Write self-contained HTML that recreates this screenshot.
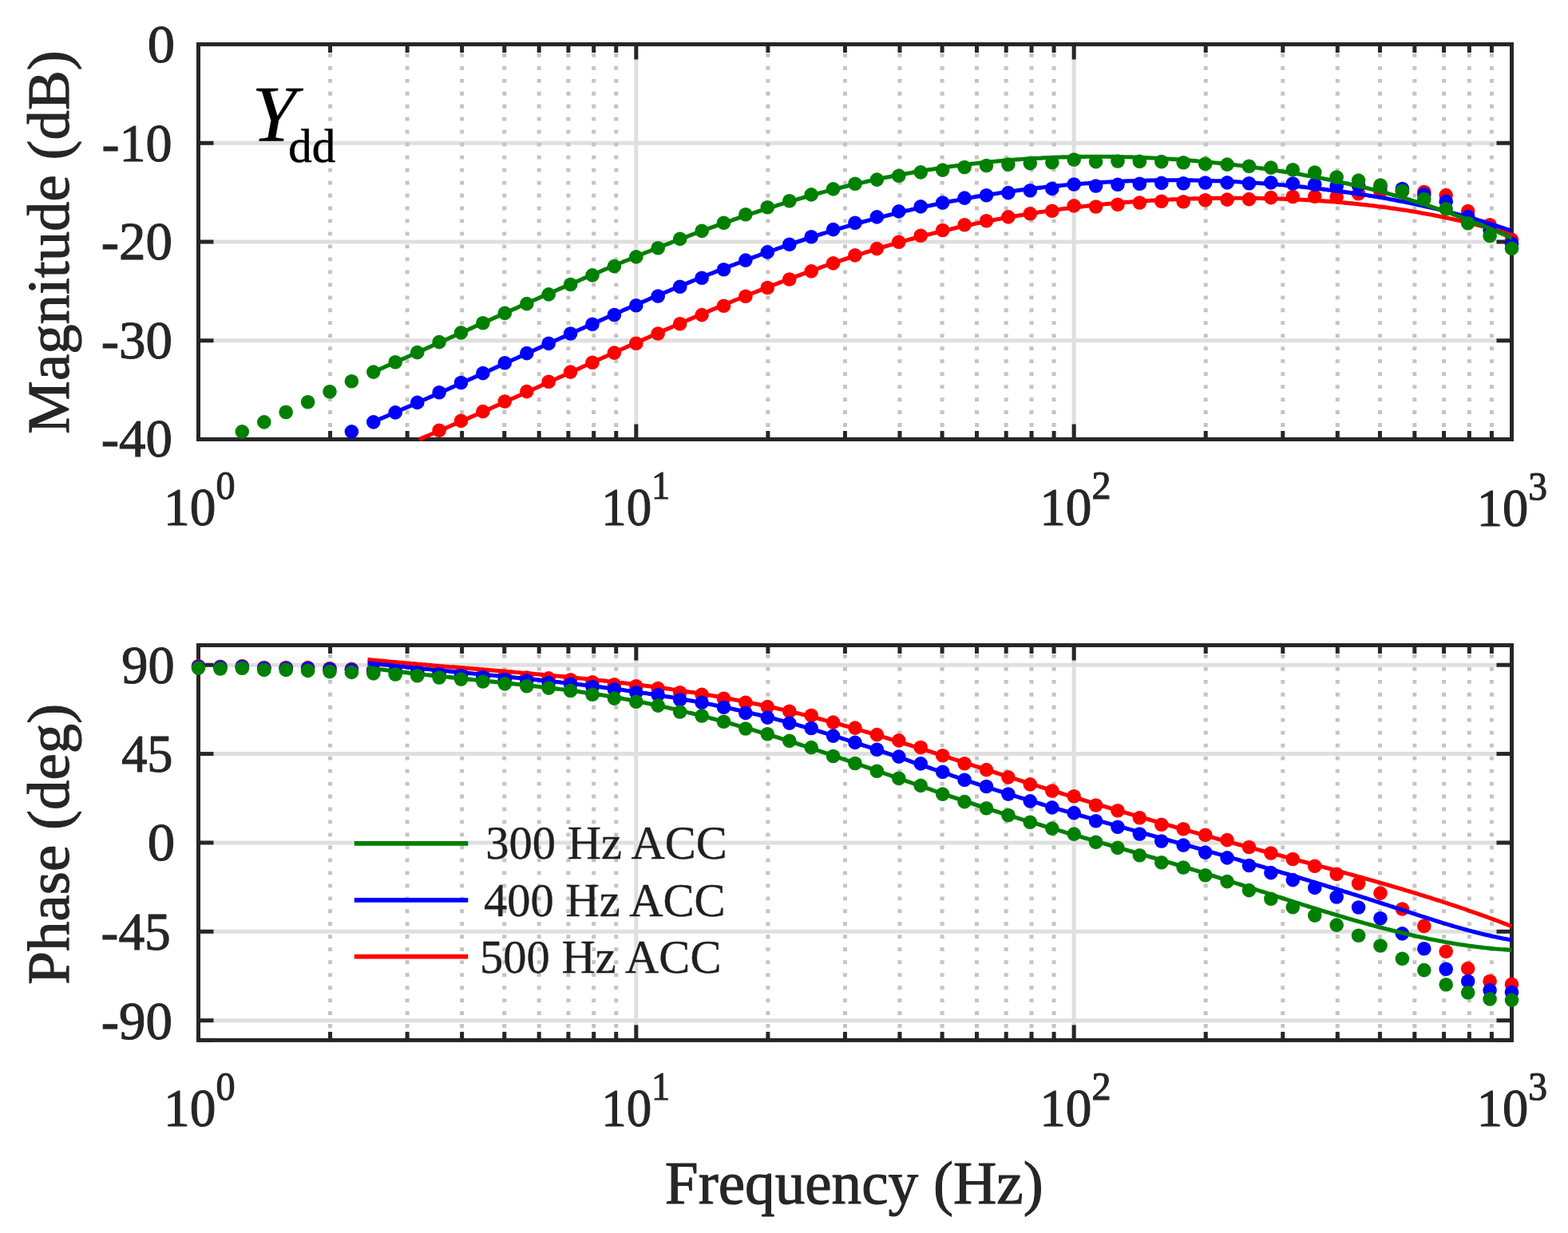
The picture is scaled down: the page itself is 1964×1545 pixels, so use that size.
<!DOCTYPE html>
<html><head><meta charset="utf-8"><style>html,body{margin:0;padding:0;background:#fff;}svg{display:block;}</style></head><body>
<svg width="1964" height="1545" viewBox="0 0 1964 1545">
<rect width="1964" height="1545" fill="#fff"/>
<defs><clipPath id="cm"><rect x="248.5" y="55.5" width="1645.0" height="495.0"/></clipPath><clipPath id="cp"><rect x="248.5" y="808.5" width="1645.0" height="494.90"/></clipPath></defs>
<line x1="248.5" y1="179.25" x2="1893.5" y2="179.25" stroke="#dfdfdf" stroke-width="5"/>
<line x1="248.5" y1="303.00" x2="1893.5" y2="303.00" stroke="#dfdfdf" stroke-width="5"/>
<line x1="248.5" y1="426.75" x2="1893.5" y2="426.75" stroke="#dfdfdf" stroke-width="5"/>
<line x1="413.56" y1="55.5" x2="413.56" y2="550.5" stroke="#c4c4c4" stroke-width="5" stroke-dasharray="4.8 11.17" stroke-dashoffset="4.52"/>
<line x1="510.12" y1="55.5" x2="510.12" y2="550.5" stroke="#c4c4c4" stroke-width="5" stroke-dasharray="4.8 11.17" stroke-dashoffset="4.52"/>
<line x1="578.63" y1="55.5" x2="578.63" y2="550.5" stroke="#c4c4c4" stroke-width="5" stroke-dasharray="4.8 11.17" stroke-dashoffset="4.52"/>
<line x1="631.77" y1="55.5" x2="631.77" y2="550.5" stroke="#c4c4c4" stroke-width="5" stroke-dasharray="4.8 11.17" stroke-dashoffset="4.52"/>
<line x1="675.19" y1="55.5" x2="675.19" y2="550.5" stroke="#c4c4c4" stroke-width="5" stroke-dasharray="4.8 11.17" stroke-dashoffset="4.52"/>
<line x1="711.90" y1="55.5" x2="711.90" y2="550.5" stroke="#c4c4c4" stroke-width="5" stroke-dasharray="4.8 11.17" stroke-dashoffset="4.52"/>
<line x1="743.69" y1="55.5" x2="743.69" y2="550.5" stroke="#c4c4c4" stroke-width="5" stroke-dasharray="4.8 11.17" stroke-dashoffset="4.52"/>
<line x1="771.74" y1="55.5" x2="771.74" y2="550.5" stroke="#c4c4c4" stroke-width="5" stroke-dasharray="4.8 11.17" stroke-dashoffset="4.52"/>
<line x1="961.90" y1="55.5" x2="961.90" y2="550.5" stroke="#c4c4c4" stroke-width="5" stroke-dasharray="4.8 11.17" stroke-dashoffset="4.52"/>
<line x1="1058.45" y1="55.5" x2="1058.45" y2="550.5" stroke="#c4c4c4" stroke-width="5" stroke-dasharray="4.8 11.17" stroke-dashoffset="4.52"/>
<line x1="1126.96" y1="55.5" x2="1126.96" y2="550.5" stroke="#c4c4c4" stroke-width="5" stroke-dasharray="4.8 11.17" stroke-dashoffset="4.52"/>
<line x1="1180.10" y1="55.5" x2="1180.10" y2="550.5" stroke="#c4c4c4" stroke-width="5" stroke-dasharray="4.8 11.17" stroke-dashoffset="4.52"/>
<line x1="1223.52" y1="55.5" x2="1223.52" y2="550.5" stroke="#c4c4c4" stroke-width="5" stroke-dasharray="4.8 11.17" stroke-dashoffset="4.52"/>
<line x1="1260.23" y1="55.5" x2="1260.23" y2="550.5" stroke="#c4c4c4" stroke-width="5" stroke-dasharray="4.8 11.17" stroke-dashoffset="4.52"/>
<line x1="1292.03" y1="55.5" x2="1292.03" y2="550.5" stroke="#c4c4c4" stroke-width="5" stroke-dasharray="4.8 11.17" stroke-dashoffset="4.52"/>
<line x1="1320.08" y1="55.5" x2="1320.08" y2="550.5" stroke="#c4c4c4" stroke-width="5" stroke-dasharray="4.8 11.17" stroke-dashoffset="4.52"/>
<line x1="1510.23" y1="55.5" x2="1510.23" y2="550.5" stroke="#c4c4c4" stroke-width="5" stroke-dasharray="4.8 11.17" stroke-dashoffset="4.52"/>
<line x1="1606.79" y1="55.5" x2="1606.79" y2="550.5" stroke="#c4c4c4" stroke-width="5" stroke-dasharray="4.8 11.17" stroke-dashoffset="4.52"/>
<line x1="1675.30" y1="55.5" x2="1675.30" y2="550.5" stroke="#c4c4c4" stroke-width="5" stroke-dasharray="4.8 11.17" stroke-dashoffset="4.52"/>
<line x1="1728.44" y1="55.5" x2="1728.44" y2="550.5" stroke="#c4c4c4" stroke-width="5" stroke-dasharray="4.8 11.17" stroke-dashoffset="4.52"/>
<line x1="1771.85" y1="55.5" x2="1771.85" y2="550.5" stroke="#c4c4c4" stroke-width="5" stroke-dasharray="4.8 11.17" stroke-dashoffset="4.52"/>
<line x1="1808.56" y1="55.5" x2="1808.56" y2="550.5" stroke="#c4c4c4" stroke-width="5" stroke-dasharray="4.8 11.17" stroke-dashoffset="4.52"/>
<line x1="1840.36" y1="55.5" x2="1840.36" y2="550.5" stroke="#c4c4c4" stroke-width="5" stroke-dasharray="4.8 11.17" stroke-dashoffset="4.52"/>
<line x1="1868.41" y1="55.5" x2="1868.41" y2="550.5" stroke="#c4c4c4" stroke-width="5" stroke-dasharray="4.8 11.17" stroke-dashoffset="4.52"/>
<line x1="796.83" y1="55.5" x2="796.83" y2="550.5" stroke="#dfdfdf" stroke-width="5"/>
<line x1="1345.17" y1="55.5" x2="1345.17" y2="550.5" stroke="#dfdfdf" stroke-width="5"/>
<line x1="248.50" y1="55.5" x2="248.50" y2="74.5" stroke="#262626" stroke-width="5"/>
<line x1="248.50" y1="550.5" x2="248.50" y2="531.5" stroke="#262626" stroke-width="5"/>
<line x1="796.83" y1="55.5" x2="796.83" y2="74.5" stroke="#262626" stroke-width="5"/>
<line x1="796.83" y1="550.5" x2="796.83" y2="531.5" stroke="#262626" stroke-width="5"/>
<line x1="1345.17" y1="55.5" x2="1345.17" y2="74.5" stroke="#262626" stroke-width="5"/>
<line x1="1345.17" y1="550.5" x2="1345.17" y2="531.5" stroke="#262626" stroke-width="5"/>
<line x1="1893.50" y1="55.5" x2="1893.50" y2="74.5" stroke="#262626" stroke-width="5"/>
<line x1="1893.50" y1="550.5" x2="1893.50" y2="531.5" stroke="#262626" stroke-width="5"/>
<line x1="413.56" y1="55.5" x2="413.56" y2="66.0" stroke="#262626" stroke-width="5"/>
<line x1="413.56" y1="550.5" x2="413.56" y2="540.0" stroke="#262626" stroke-width="5"/>
<line x1="510.12" y1="55.5" x2="510.12" y2="66.0" stroke="#262626" stroke-width="5"/>
<line x1="510.12" y1="550.5" x2="510.12" y2="540.0" stroke="#262626" stroke-width="5"/>
<line x1="578.63" y1="55.5" x2="578.63" y2="66.0" stroke="#262626" stroke-width="5"/>
<line x1="578.63" y1="550.5" x2="578.63" y2="540.0" stroke="#262626" stroke-width="5"/>
<line x1="631.77" y1="55.5" x2="631.77" y2="66.0" stroke="#262626" stroke-width="5"/>
<line x1="631.77" y1="550.5" x2="631.77" y2="540.0" stroke="#262626" stroke-width="5"/>
<line x1="675.19" y1="55.5" x2="675.19" y2="66.0" stroke="#262626" stroke-width="5"/>
<line x1="675.19" y1="550.5" x2="675.19" y2="540.0" stroke="#262626" stroke-width="5"/>
<line x1="711.90" y1="55.5" x2="711.90" y2="66.0" stroke="#262626" stroke-width="5"/>
<line x1="711.90" y1="550.5" x2="711.90" y2="540.0" stroke="#262626" stroke-width="5"/>
<line x1="743.69" y1="55.5" x2="743.69" y2="66.0" stroke="#262626" stroke-width="5"/>
<line x1="743.69" y1="550.5" x2="743.69" y2="540.0" stroke="#262626" stroke-width="5"/>
<line x1="771.74" y1="55.5" x2="771.74" y2="66.0" stroke="#262626" stroke-width="5"/>
<line x1="771.74" y1="550.5" x2="771.74" y2="540.0" stroke="#262626" stroke-width="5"/>
<line x1="961.90" y1="55.5" x2="961.90" y2="66.0" stroke="#262626" stroke-width="5"/>
<line x1="961.90" y1="550.5" x2="961.90" y2="540.0" stroke="#262626" stroke-width="5"/>
<line x1="1058.45" y1="55.5" x2="1058.45" y2="66.0" stroke="#262626" stroke-width="5"/>
<line x1="1058.45" y1="550.5" x2="1058.45" y2="540.0" stroke="#262626" stroke-width="5"/>
<line x1="1126.96" y1="55.5" x2="1126.96" y2="66.0" stroke="#262626" stroke-width="5"/>
<line x1="1126.96" y1="550.5" x2="1126.96" y2="540.0" stroke="#262626" stroke-width="5"/>
<line x1="1180.10" y1="55.5" x2="1180.10" y2="66.0" stroke="#262626" stroke-width="5"/>
<line x1="1180.10" y1="550.5" x2="1180.10" y2="540.0" stroke="#262626" stroke-width="5"/>
<line x1="1223.52" y1="55.5" x2="1223.52" y2="66.0" stroke="#262626" stroke-width="5"/>
<line x1="1223.52" y1="550.5" x2="1223.52" y2="540.0" stroke="#262626" stroke-width="5"/>
<line x1="1260.23" y1="55.5" x2="1260.23" y2="66.0" stroke="#262626" stroke-width="5"/>
<line x1="1260.23" y1="550.5" x2="1260.23" y2="540.0" stroke="#262626" stroke-width="5"/>
<line x1="1292.03" y1="55.5" x2="1292.03" y2="66.0" stroke="#262626" stroke-width="5"/>
<line x1="1292.03" y1="550.5" x2="1292.03" y2="540.0" stroke="#262626" stroke-width="5"/>
<line x1="1320.08" y1="55.5" x2="1320.08" y2="66.0" stroke="#262626" stroke-width="5"/>
<line x1="1320.08" y1="550.5" x2="1320.08" y2="540.0" stroke="#262626" stroke-width="5"/>
<line x1="1510.23" y1="55.5" x2="1510.23" y2="66.0" stroke="#262626" stroke-width="5"/>
<line x1="1510.23" y1="550.5" x2="1510.23" y2="540.0" stroke="#262626" stroke-width="5"/>
<line x1="1606.79" y1="55.5" x2="1606.79" y2="66.0" stroke="#262626" stroke-width="5"/>
<line x1="1606.79" y1="550.5" x2="1606.79" y2="540.0" stroke="#262626" stroke-width="5"/>
<line x1="1675.30" y1="55.5" x2="1675.30" y2="66.0" stroke="#262626" stroke-width="5"/>
<line x1="1675.30" y1="550.5" x2="1675.30" y2="540.0" stroke="#262626" stroke-width="5"/>
<line x1="1728.44" y1="55.5" x2="1728.44" y2="66.0" stroke="#262626" stroke-width="5"/>
<line x1="1728.44" y1="550.5" x2="1728.44" y2="540.0" stroke="#262626" stroke-width="5"/>
<line x1="1771.85" y1="55.5" x2="1771.85" y2="66.0" stroke="#262626" stroke-width="5"/>
<line x1="1771.85" y1="550.5" x2="1771.85" y2="540.0" stroke="#262626" stroke-width="5"/>
<line x1="1808.56" y1="55.5" x2="1808.56" y2="66.0" stroke="#262626" stroke-width="5"/>
<line x1="1808.56" y1="550.5" x2="1808.56" y2="540.0" stroke="#262626" stroke-width="5"/>
<line x1="1840.36" y1="55.5" x2="1840.36" y2="66.0" stroke="#262626" stroke-width="5"/>
<line x1="1840.36" y1="550.5" x2="1840.36" y2="540.0" stroke="#262626" stroke-width="5"/>
<line x1="1868.41" y1="55.5" x2="1868.41" y2="66.0" stroke="#262626" stroke-width="5"/>
<line x1="1868.41" y1="550.5" x2="1868.41" y2="540.0" stroke="#262626" stroke-width="5"/>
<line x1="248.5" y1="179.25" x2="267.5" y2="179.25" stroke="#262626" stroke-width="5"/>
<line x1="1893.5" y1="179.25" x2="1874.5" y2="179.25" stroke="#262626" stroke-width="5"/>
<line x1="248.5" y1="303.00" x2="267.5" y2="303.00" stroke="#262626" stroke-width="5"/>
<line x1="1893.5" y1="303.00" x2="1874.5" y2="303.00" stroke="#262626" stroke-width="5"/>
<line x1="248.5" y1="426.75" x2="267.5" y2="426.75" stroke="#262626" stroke-width="5"/>
<line x1="1893.5" y1="426.75" x2="1874.5" y2="426.75" stroke="#262626" stroke-width="5"/>
<line x1="248.5" y1="55.50" x2="267.5" y2="55.50" stroke="#262626" stroke-width="5"/>
<line x1="1893.5" y1="55.50" x2="1874.5" y2="55.50" stroke="#262626" stroke-width="5"/>
<line x1="248.5" y1="550.50" x2="267.5" y2="550.50" stroke="#262626" stroke-width="5"/>
<line x1="1893.5" y1="550.50" x2="1874.5" y2="550.50" stroke="#262626" stroke-width="5"/>
<rect x="248.5" y="55.5" width="1645.0" height="495.00" fill="none" stroke="#262626" stroke-width="5" stroke-linejoin="miter"/>
<line x1="248.5" y1="833.25" x2="1893.5" y2="833.25" stroke="#dfdfdf" stroke-width="5"/>
<line x1="248.5" y1="944.60" x2="1893.5" y2="944.60" stroke="#dfdfdf" stroke-width="5"/>
<line x1="248.5" y1="1055.95" x2="1893.5" y2="1055.95" stroke="#dfdfdf" stroke-width="5"/>
<line x1="248.5" y1="1167.30" x2="1893.5" y2="1167.30" stroke="#dfdfdf" stroke-width="5"/>
<line x1="248.5" y1="1278.66" x2="1893.5" y2="1278.66" stroke="#dfdfdf" stroke-width="5"/>
<line x1="413.56" y1="808.5" x2="413.56" y2="1303.4" stroke="#c4c4c4" stroke-width="5" stroke-dasharray="4.8 11.17" stroke-dashoffset="4.52"/>
<line x1="510.12" y1="808.5" x2="510.12" y2="1303.4" stroke="#c4c4c4" stroke-width="5" stroke-dasharray="4.8 11.17" stroke-dashoffset="4.52"/>
<line x1="578.63" y1="808.5" x2="578.63" y2="1303.4" stroke="#c4c4c4" stroke-width="5" stroke-dasharray="4.8 11.17" stroke-dashoffset="4.52"/>
<line x1="631.77" y1="808.5" x2="631.77" y2="1303.4" stroke="#c4c4c4" stroke-width="5" stroke-dasharray="4.8 11.17" stroke-dashoffset="4.52"/>
<line x1="675.19" y1="808.5" x2="675.19" y2="1303.4" stroke="#c4c4c4" stroke-width="5" stroke-dasharray="4.8 11.17" stroke-dashoffset="4.52"/>
<line x1="711.90" y1="808.5" x2="711.90" y2="1303.4" stroke="#c4c4c4" stroke-width="5" stroke-dasharray="4.8 11.17" stroke-dashoffset="4.52"/>
<line x1="743.69" y1="808.5" x2="743.69" y2="1303.4" stroke="#c4c4c4" stroke-width="5" stroke-dasharray="4.8 11.17" stroke-dashoffset="4.52"/>
<line x1="771.74" y1="808.5" x2="771.74" y2="1303.4" stroke="#c4c4c4" stroke-width="5" stroke-dasharray="4.8 11.17" stroke-dashoffset="4.52"/>
<line x1="961.90" y1="808.5" x2="961.90" y2="1303.4" stroke="#c4c4c4" stroke-width="5" stroke-dasharray="4.8 11.17" stroke-dashoffset="4.52"/>
<line x1="1058.45" y1="808.5" x2="1058.45" y2="1303.4" stroke="#c4c4c4" stroke-width="5" stroke-dasharray="4.8 11.17" stroke-dashoffset="4.52"/>
<line x1="1126.96" y1="808.5" x2="1126.96" y2="1303.4" stroke="#c4c4c4" stroke-width="5" stroke-dasharray="4.8 11.17" stroke-dashoffset="4.52"/>
<line x1="1180.10" y1="808.5" x2="1180.10" y2="1303.4" stroke="#c4c4c4" stroke-width="5" stroke-dasharray="4.8 11.17" stroke-dashoffset="4.52"/>
<line x1="1223.52" y1="808.5" x2="1223.52" y2="1303.4" stroke="#c4c4c4" stroke-width="5" stroke-dasharray="4.8 11.17" stroke-dashoffset="4.52"/>
<line x1="1260.23" y1="808.5" x2="1260.23" y2="1303.4" stroke="#c4c4c4" stroke-width="5" stroke-dasharray="4.8 11.17" stroke-dashoffset="4.52"/>
<line x1="1292.03" y1="808.5" x2="1292.03" y2="1303.4" stroke="#c4c4c4" stroke-width="5" stroke-dasharray="4.8 11.17" stroke-dashoffset="4.52"/>
<line x1="1320.08" y1="808.5" x2="1320.08" y2="1303.4" stroke="#c4c4c4" stroke-width="5" stroke-dasharray="4.8 11.17" stroke-dashoffset="4.52"/>
<line x1="1510.23" y1="808.5" x2="1510.23" y2="1303.4" stroke="#c4c4c4" stroke-width="5" stroke-dasharray="4.8 11.17" stroke-dashoffset="4.52"/>
<line x1="1606.79" y1="808.5" x2="1606.79" y2="1303.4" stroke="#c4c4c4" stroke-width="5" stroke-dasharray="4.8 11.17" stroke-dashoffset="4.52"/>
<line x1="1675.30" y1="808.5" x2="1675.30" y2="1303.4" stroke="#c4c4c4" stroke-width="5" stroke-dasharray="4.8 11.17" stroke-dashoffset="4.52"/>
<line x1="1728.44" y1="808.5" x2="1728.44" y2="1303.4" stroke="#c4c4c4" stroke-width="5" stroke-dasharray="4.8 11.17" stroke-dashoffset="4.52"/>
<line x1="1771.85" y1="808.5" x2="1771.85" y2="1303.4" stroke="#c4c4c4" stroke-width="5" stroke-dasharray="4.8 11.17" stroke-dashoffset="4.52"/>
<line x1="1808.56" y1="808.5" x2="1808.56" y2="1303.4" stroke="#c4c4c4" stroke-width="5" stroke-dasharray="4.8 11.17" stroke-dashoffset="4.52"/>
<line x1="1840.36" y1="808.5" x2="1840.36" y2="1303.4" stroke="#c4c4c4" stroke-width="5" stroke-dasharray="4.8 11.17" stroke-dashoffset="4.52"/>
<line x1="1868.41" y1="808.5" x2="1868.41" y2="1303.4" stroke="#c4c4c4" stroke-width="5" stroke-dasharray="4.8 11.17" stroke-dashoffset="4.52"/>
<line x1="796.83" y1="808.5" x2="796.83" y2="1303.4" stroke="#dfdfdf" stroke-width="5"/>
<line x1="1345.17" y1="808.5" x2="1345.17" y2="1303.4" stroke="#dfdfdf" stroke-width="5"/>
<line x1="248.50" y1="808.5" x2="248.50" y2="827.5" stroke="#262626" stroke-width="5"/>
<line x1="248.50" y1="1303.4" x2="248.50" y2="1284.4" stroke="#262626" stroke-width="5"/>
<line x1="796.83" y1="808.5" x2="796.83" y2="827.5" stroke="#262626" stroke-width="5"/>
<line x1="796.83" y1="1303.4" x2="796.83" y2="1284.4" stroke="#262626" stroke-width="5"/>
<line x1="1345.17" y1="808.5" x2="1345.17" y2="827.5" stroke="#262626" stroke-width="5"/>
<line x1="1345.17" y1="1303.4" x2="1345.17" y2="1284.4" stroke="#262626" stroke-width="5"/>
<line x1="1893.50" y1="808.5" x2="1893.50" y2="827.5" stroke="#262626" stroke-width="5"/>
<line x1="1893.50" y1="1303.4" x2="1893.50" y2="1284.4" stroke="#262626" stroke-width="5"/>
<line x1="413.56" y1="808.5" x2="413.56" y2="819.0" stroke="#262626" stroke-width="5"/>
<line x1="413.56" y1="1303.4" x2="413.56" y2="1292.9" stroke="#262626" stroke-width="5"/>
<line x1="510.12" y1="808.5" x2="510.12" y2="819.0" stroke="#262626" stroke-width="5"/>
<line x1="510.12" y1="1303.4" x2="510.12" y2="1292.9" stroke="#262626" stroke-width="5"/>
<line x1="578.63" y1="808.5" x2="578.63" y2="819.0" stroke="#262626" stroke-width="5"/>
<line x1="578.63" y1="1303.4" x2="578.63" y2="1292.9" stroke="#262626" stroke-width="5"/>
<line x1="631.77" y1="808.5" x2="631.77" y2="819.0" stroke="#262626" stroke-width="5"/>
<line x1="631.77" y1="1303.4" x2="631.77" y2="1292.9" stroke="#262626" stroke-width="5"/>
<line x1="675.19" y1="808.5" x2="675.19" y2="819.0" stroke="#262626" stroke-width="5"/>
<line x1="675.19" y1="1303.4" x2="675.19" y2="1292.9" stroke="#262626" stroke-width="5"/>
<line x1="711.90" y1="808.5" x2="711.90" y2="819.0" stroke="#262626" stroke-width="5"/>
<line x1="711.90" y1="1303.4" x2="711.90" y2="1292.9" stroke="#262626" stroke-width="5"/>
<line x1="743.69" y1="808.5" x2="743.69" y2="819.0" stroke="#262626" stroke-width="5"/>
<line x1="743.69" y1="1303.4" x2="743.69" y2="1292.9" stroke="#262626" stroke-width="5"/>
<line x1="771.74" y1="808.5" x2="771.74" y2="819.0" stroke="#262626" stroke-width="5"/>
<line x1="771.74" y1="1303.4" x2="771.74" y2="1292.9" stroke="#262626" stroke-width="5"/>
<line x1="961.90" y1="808.5" x2="961.90" y2="819.0" stroke="#262626" stroke-width="5"/>
<line x1="961.90" y1="1303.4" x2="961.90" y2="1292.9" stroke="#262626" stroke-width="5"/>
<line x1="1058.45" y1="808.5" x2="1058.45" y2="819.0" stroke="#262626" stroke-width="5"/>
<line x1="1058.45" y1="1303.4" x2="1058.45" y2="1292.9" stroke="#262626" stroke-width="5"/>
<line x1="1126.96" y1="808.5" x2="1126.96" y2="819.0" stroke="#262626" stroke-width="5"/>
<line x1="1126.96" y1="1303.4" x2="1126.96" y2="1292.9" stroke="#262626" stroke-width="5"/>
<line x1="1180.10" y1="808.5" x2="1180.10" y2="819.0" stroke="#262626" stroke-width="5"/>
<line x1="1180.10" y1="1303.4" x2="1180.10" y2="1292.9" stroke="#262626" stroke-width="5"/>
<line x1="1223.52" y1="808.5" x2="1223.52" y2="819.0" stroke="#262626" stroke-width="5"/>
<line x1="1223.52" y1="1303.4" x2="1223.52" y2="1292.9" stroke="#262626" stroke-width="5"/>
<line x1="1260.23" y1="808.5" x2="1260.23" y2="819.0" stroke="#262626" stroke-width="5"/>
<line x1="1260.23" y1="1303.4" x2="1260.23" y2="1292.9" stroke="#262626" stroke-width="5"/>
<line x1="1292.03" y1="808.5" x2="1292.03" y2="819.0" stroke="#262626" stroke-width="5"/>
<line x1="1292.03" y1="1303.4" x2="1292.03" y2="1292.9" stroke="#262626" stroke-width="5"/>
<line x1="1320.08" y1="808.5" x2="1320.08" y2="819.0" stroke="#262626" stroke-width="5"/>
<line x1="1320.08" y1="1303.4" x2="1320.08" y2="1292.9" stroke="#262626" stroke-width="5"/>
<line x1="1510.23" y1="808.5" x2="1510.23" y2="819.0" stroke="#262626" stroke-width="5"/>
<line x1="1510.23" y1="1303.4" x2="1510.23" y2="1292.9" stroke="#262626" stroke-width="5"/>
<line x1="1606.79" y1="808.5" x2="1606.79" y2="819.0" stroke="#262626" stroke-width="5"/>
<line x1="1606.79" y1="1303.4" x2="1606.79" y2="1292.9" stroke="#262626" stroke-width="5"/>
<line x1="1675.30" y1="808.5" x2="1675.30" y2="819.0" stroke="#262626" stroke-width="5"/>
<line x1="1675.30" y1="1303.4" x2="1675.30" y2="1292.9" stroke="#262626" stroke-width="5"/>
<line x1="1728.44" y1="808.5" x2="1728.44" y2="819.0" stroke="#262626" stroke-width="5"/>
<line x1="1728.44" y1="1303.4" x2="1728.44" y2="1292.9" stroke="#262626" stroke-width="5"/>
<line x1="1771.85" y1="808.5" x2="1771.85" y2="819.0" stroke="#262626" stroke-width="5"/>
<line x1="1771.85" y1="1303.4" x2="1771.85" y2="1292.9" stroke="#262626" stroke-width="5"/>
<line x1="1808.56" y1="808.5" x2="1808.56" y2="819.0" stroke="#262626" stroke-width="5"/>
<line x1="1808.56" y1="1303.4" x2="1808.56" y2="1292.9" stroke="#262626" stroke-width="5"/>
<line x1="1840.36" y1="808.5" x2="1840.36" y2="819.0" stroke="#262626" stroke-width="5"/>
<line x1="1840.36" y1="1303.4" x2="1840.36" y2="1292.9" stroke="#262626" stroke-width="5"/>
<line x1="1868.41" y1="808.5" x2="1868.41" y2="819.0" stroke="#262626" stroke-width="5"/>
<line x1="1868.41" y1="1303.4" x2="1868.41" y2="1292.9" stroke="#262626" stroke-width="5"/>
<line x1="248.5" y1="833.25" x2="267.5" y2="833.25" stroke="#262626" stroke-width="5"/>
<line x1="1893.5" y1="833.25" x2="1874.5" y2="833.25" stroke="#262626" stroke-width="5"/>
<line x1="248.5" y1="944.60" x2="267.5" y2="944.60" stroke="#262626" stroke-width="5"/>
<line x1="1893.5" y1="944.60" x2="1874.5" y2="944.60" stroke="#262626" stroke-width="5"/>
<line x1="248.5" y1="1055.95" x2="267.5" y2="1055.95" stroke="#262626" stroke-width="5"/>
<line x1="1893.5" y1="1055.95" x2="1874.5" y2="1055.95" stroke="#262626" stroke-width="5"/>
<line x1="248.5" y1="1167.30" x2="267.5" y2="1167.30" stroke="#262626" stroke-width="5"/>
<line x1="1893.5" y1="1167.30" x2="1874.5" y2="1167.30" stroke="#262626" stroke-width="5"/>
<line x1="248.5" y1="1278.66" x2="267.5" y2="1278.66" stroke="#262626" stroke-width="5"/>
<line x1="1893.5" y1="1278.66" x2="1874.5" y2="1278.66" stroke="#262626" stroke-width="5"/>
<line x1="248.5" y1="808.50" x2="267.5" y2="808.50" stroke="#262626" stroke-width="5"/>
<line x1="1893.5" y1="808.50" x2="1874.5" y2="808.50" stroke="#262626" stroke-width="5"/>
<line x1="248.5" y1="1303.40" x2="267.5" y2="1303.40" stroke="#262626" stroke-width="5"/>
<line x1="1893.5" y1="1303.40" x2="1874.5" y2="1303.40" stroke="#262626" stroke-width="5"/>
<rect x="248.5" y="808.5" width="1645.0" height="494.90" fill="none" stroke="#262626" stroke-width="5" stroke-linejoin="miter"/>
<path d="M525.1,550.5 L526.5,549.9 L529.5,548.6 L532.5,547.4 L535.5,546.1 L538.5,544.8 L541.5,543.5 L544.5,542.3 L547.5,541.0 L550.5,539.7 L553.5,538.4 L556.5,537.1 L559.5,535.8 L562.5,534.5 L565.5,533.2 L568.5,531.9 L571.5,530.6 L574.5,529.3 L577.5,528.0 L580.5,526.7 L583.5,525.4 L586.5,524.1 L589.5,522.7 L592.5,521.4 L595.5,520.1 L598.5,518.8 L601.5,517.4 L604.5,516.1 L607.5,514.8 L610.5,513.4 L613.5,512.1 L616.5,510.8 L619.5,509.4 L622.5,508.1 L625.5,506.8 L628.5,505.4 L631.5,504.1 L634.5,502.7 L637.5,501.4 L640.5,500.0 L643.5,498.7 L646.5,497.3 L649.5,496.0 L652.5,494.6 L655.5,493.3 L658.5,491.9 L661.5,490.6 L664.5,489.2 L667.5,487.9 L670.5,486.5 L673.5,485.2 L676.5,483.8 L679.5,482.4 L682.5,481.1 L685.5,479.7 L688.5,478.4 L691.5,477.0 L694.5,475.7 L697.5,474.3 L700.5,472.9 L703.5,471.6 L706.5,470.2 L709.5,468.9 L712.5,467.5 L715.5,466.1 L718.5,464.8 L721.5,463.4 L724.5,462.1 L727.5,460.7 L730.5,459.3 L733.5,458.0 L736.5,456.6 L739.5,455.3 L742.5,453.9 L745.5,452.6 L748.5,451.2 L751.5,449.8 L754.5,448.5 L757.5,447.1 L760.5,445.8 L763.5,444.4 L766.5,443.1 L769.5,441.7 L772.5,440.4 L775.5,439.0 L778.5,437.7 L781.5,436.3 L784.5,435.0 L787.5,433.7 L790.5,432.3 L793.5,431.0 L796.5,429.6 L799.5,428.3 L802.5,427.0 L805.5,425.6 L808.5,424.3 L811.5,423.0 L814.5,421.7 L817.5,420.3 L820.5,419.0 L823.5,417.7 L826.5,416.4 L829.5,415.0 L832.5,413.7 L835.5,412.4 L838.5,411.1 L841.5,409.8 L844.5,408.5 L847.5,407.2 L850.5,405.9 L853.5,404.6 L856.5,403.3 L859.5,402.0 L862.5,400.7 L865.5,399.4 L868.5,398.1 L871.5,396.8 L874.5,395.6 L877.5,394.3 L880.5,393.0 L883.5,391.7 L886.5,390.5 L889.5,389.2 L892.5,387.9 L895.5,386.7 L898.5,385.4 L901.5,384.2 L904.5,382.9 L907.5,381.7 L910.5,380.4 L913.5,379.2 L916.5,378.0 L919.5,376.7 L922.5,375.5 L925.5,374.3 L928.5,373.1 L931.5,371.9 L934.5,370.6 L937.5,369.4 L940.5,368.2 L943.5,367.0 L946.5,365.8 L949.5,364.6 L952.5,363.5 L955.5,362.3 L958.5,361.1 L961.5,359.9 L964.5,358.8 L967.5,357.6 L970.5,356.4 L973.5,355.3 L976.5,354.1 L979.5,353.0 L982.5,351.8 L985.5,350.7 L988.5,349.6 L991.5,348.4 L994.5,347.3 L997.5,346.2 L1000.5,345.1 L1003.5,344.0 L1006.5,342.9 L1009.5,341.8 L1012.5,340.7 L1015.5,339.6 L1018.5,338.5 L1021.5,337.4 L1024.5,336.4 L1027.5,335.3 L1030.5,334.2 L1033.5,333.2 L1036.5,332.1 L1039.5,331.1 L1042.5,330.1 L1045.5,329.0 L1048.5,328.0 L1051.5,327.0 L1054.5,326.0 L1057.5,325.0 L1060.5,324.0 L1063.5,323.0 L1066.5,322.0 L1069.5,321.0 L1072.5,320.0 L1075.5,319.1 L1078.5,318.1 L1081.5,317.1 L1084.5,316.2 L1087.5,315.3 L1090.5,314.3 L1093.5,313.4 L1096.5,312.5 L1099.5,311.5 L1102.5,310.6 L1105.5,309.7 L1108.5,308.8 L1111.5,308.0 L1114.5,307.1 L1117.5,306.2 L1120.5,305.3 L1123.5,304.5 L1126.5,303.6 L1129.5,302.8 L1132.5,301.9 L1135.5,301.1 L1138.5,300.3 L1141.5,299.5 L1144.5,298.7 L1147.5,297.9 L1150.5,297.1 L1153.5,296.3 L1156.5,295.5 L1159.5,294.7 L1162.5,293.9 L1165.5,293.2 L1168.5,292.4 L1171.5,291.7 L1174.5,291.0 L1177.5,290.2 L1180.5,289.5 L1183.5,288.8 L1186.5,288.1 L1189.5,287.4 L1192.5,286.7 L1195.5,286.0 L1198.5,285.3 L1201.5,284.6 L1204.5,284.0 L1207.5,283.3 L1210.5,282.6 L1213.5,282.0 L1216.5,281.4 L1219.5,280.7 L1222.5,280.1 L1225.5,279.5 L1228.5,278.9 L1231.5,278.2 L1234.5,277.6 L1237.5,277.1 L1240.5,276.5 L1243.5,275.9 L1246.5,275.3 L1249.5,274.7 L1252.5,274.2 L1255.5,273.6 L1258.5,273.1 L1261.5,272.5 L1264.5,272.0 L1267.5,271.5 L1270.5,271.0 L1273.5,270.4 L1276.5,269.9 L1279.5,269.4 L1282.5,268.9 L1285.5,268.4 L1288.5,268.0 L1291.5,267.5 L1294.5,267.0 L1297.5,266.5 L1300.5,266.1 L1303.5,265.6 L1306.5,265.2 L1309.5,264.7 L1312.5,264.3 L1315.5,263.9 L1318.5,263.5 L1321.5,263.0 L1324.5,262.6 L1327.5,262.2 L1330.5,261.8 L1333.5,261.4 L1336.5,261.1 L1339.5,260.7 L1342.5,260.3 L1345.5,259.9 L1348.5,259.6 L1351.5,259.2 L1354.5,258.9 L1357.5,258.5 L1360.5,258.2 L1363.5,257.9 L1366.5,257.6 L1369.5,257.2 L1372.5,256.9 L1375.5,256.6 L1378.5,256.3 L1381.5,256.0 L1384.5,255.7 L1387.5,255.4 L1390.5,255.2 L1393.5,254.9 L1396.5,254.6 L1399.5,254.4 L1402.5,254.1 L1405.5,253.9 L1408.5,253.6 L1411.5,253.4 L1414.5,253.2 L1417.5,252.9 L1420.5,252.7 L1423.5,252.5 L1426.5,252.3 L1429.5,252.1 L1432.5,251.9 L1435.5,251.7 L1438.5,251.5 L1441.5,251.3 L1444.5,251.1 L1447.5,251.0 L1450.5,250.8 L1453.5,250.6 L1456.5,250.5 L1459.5,250.3 L1462.5,250.2 L1465.5,250.0 L1468.5,249.9 L1471.5,249.8 L1474.5,249.7 L1477.5,249.5 L1480.5,249.4 L1483.5,249.3 L1486.5,249.2 L1489.5,249.1 L1492.5,249.0 L1495.5,248.9 L1498.5,248.9 L1501.5,248.8 L1504.5,248.7 L1507.5,248.6 L1510.5,248.6 L1513.5,248.5 L1516.5,248.5 L1519.5,248.4 L1522.5,248.4 L1525.5,248.4 L1528.5,248.3 L1531.5,248.3 L1534.5,248.3 L1537.5,248.3 L1540.5,248.2 L1543.5,248.2 L1546.5,248.2 L1549.5,248.2 L1552.5,248.2 L1555.5,248.3 L1558.5,248.3 L1561.5,248.3 L1564.5,248.3 L1567.5,248.4 L1570.5,248.4 L1573.5,248.4 L1576.5,248.5 L1579.5,248.5 L1582.5,248.6 L1585.5,248.7 L1588.5,248.7 L1591.5,248.8 L1594.5,248.9 L1597.5,249.0 L1600.5,249.0 L1603.5,249.1 L1606.5,249.2 L1609.5,249.4 L1612.5,249.5 L1615.5,249.6 L1618.5,249.7 L1621.5,249.8 L1624.5,250.0 L1627.5,250.1 L1630.5,250.3 L1633.5,250.4 L1636.5,250.6 L1639.5,250.8 L1642.5,250.9 L1645.5,251.1 L1648.5,251.3 L1651.5,251.5 L1654.5,251.7 L1657.5,251.9 L1660.5,252.1 L1663.5,252.3 L1666.5,252.6 L1669.5,252.8 L1672.5,253.0 L1675.5,253.3 L1678.5,253.5 L1681.5,253.8 L1684.5,254.1 L1687.5,254.4 L1690.5,254.6 L1693.5,254.9 L1696.5,255.2 L1699.5,255.5 L1702.5,255.9 L1705.5,256.2 L1708.5,256.5 L1711.5,256.8 L1714.5,257.2 L1717.5,257.5 L1720.5,257.9 L1723.5,258.3 L1726.5,258.7 L1729.5,259.0 L1732.5,259.4 L1735.5,259.8 L1738.5,260.2 L1741.5,260.7 L1744.5,261.1 L1747.5,261.5 L1750.5,262.0 L1753.5,262.4 L1756.5,262.9 L1759.5,263.3 L1762.5,263.8 L1765.5,264.3 L1768.5,264.8 L1771.5,265.3 L1774.5,265.8 L1777.5,266.3 L1780.5,266.9 L1783.5,267.4 L1786.5,267.9 L1789.5,268.5 L1792.5,269.1 L1795.5,269.6 L1798.5,270.2 L1801.5,270.8 L1804.5,271.4 L1807.5,272.0 L1810.5,272.7 L1813.5,273.3 L1816.5,273.9 L1819.5,274.6 L1822.5,275.3 L1825.5,275.9 L1828.5,276.6 L1831.5,277.3 L1834.5,278.0 L1837.5,278.7 L1840.5,279.4 L1843.5,280.2 L1846.5,280.9 L1849.5,281.7 L1852.5,282.4 L1855.5,283.2 L1858.5,284.0 L1861.5,284.8 L1864.5,285.6 L1867.5,286.4 L1870.5,287.2 L1873.5,288.0 L1876.5,288.9 L1879.5,289.8 L1882.5,290.6 L1885.5,291.5 L1888.5,292.4 L1891.5,293.3 L1893.5,293.9" fill="none" stroke="#ff0000" stroke-width="5.1" stroke-linejoin="round"/>
<g fill="#ff0000"><circle cx="550.1" cy="539.3" r="8.8"/><circle cx="577.5" cy="527.4" r="8.8"/><circle cx="604.9" cy="515.6" r="8.8"/><circle cx="632.3" cy="503.0" r="8.8"/><circle cx="659.8" cy="490.6" r="8.8"/><circle cx="687.2" cy="478.2" r="8.8"/><circle cx="714.6" cy="466.1" r="8.8"/><circle cx="742.0" cy="454.3" r="8.8"/><circle cx="769.4" cy="442.1" r="8.8"/><circle cx="796.8" cy="430.2" r="8.8"/><circle cx="824.2" cy="418.0" r="8.8"/><circle cx="851.7" cy="405.8" r="8.8"/><circle cx="879.1" cy="394.6" r="8.8"/><circle cx="906.5" cy="383.2" r="8.8"/><circle cx="933.9" cy="371.3" r="8.8"/><circle cx="961.3" cy="360.5" r="8.8"/><circle cx="988.8" cy="350.0" r="8.8"/><circle cx="1016.2" cy="339.9" r="8.8"/><circle cx="1043.6" cy="329.9" r="8.8"/><circle cx="1071.0" cy="319.9" r="8.8"/><circle cx="1098.4" cy="311.6" r="8.8"/><circle cx="1125.8" cy="303.2" r="8.8"/><circle cx="1153.2" cy="295.3" r="8.8"/><circle cx="1180.7" cy="288.5" r="8.8"/><circle cx="1208.1" cy="281.8" r="8.8"/><circle cx="1235.5" cy="276.8" r="8.8"/><circle cx="1262.9" cy="271.9" r="8.8"/><circle cx="1290.3" cy="267.7" r="8.8"/><circle cx="1317.8" cy="264.2" r="8.8"/><circle cx="1345.2" cy="257.9" r="8.8"/><circle cx="1372.6" cy="259.0" r="8.8"/><circle cx="1400.0" cy="256.3" r="8.8"/><circle cx="1427.4" cy="254.0" r="8.8"/><circle cx="1454.8" cy="252.2" r="8.8"/><circle cx="1482.2" cy="252.7" r="8.8"/><circle cx="1509.7" cy="250.7" r="8.8"/><circle cx="1537.1" cy="250.1" r="8.8"/><circle cx="1564.5" cy="249.6" r="8.8"/><circle cx="1591.9" cy="247.6" r="8.8"/><circle cx="1619.3" cy="246.5" r="8.8"/><circle cx="1646.8" cy="246.3" r="8.8"/><circle cx="1674.2" cy="246.7" r="8.8"/><circle cx="1701.6" cy="242.7" r="8.8"/><circle cx="1729.0" cy="240.2" r="8.8"/><circle cx="1756.4" cy="240.0" r="8.8"/><circle cx="1783.8" cy="240.5" r="8.8"/><circle cx="1811.2" cy="244.6" r="8.8"/><circle cx="1838.7" cy="264.6" r="8.8"/><circle cx="1866.1" cy="281.7" r="8.8"/><circle cx="1893.5" cy="300.4" r="8.8"/></g>
<path d="M460.5,531.6 L463.5,530.3 L466.5,529.0 L469.5,527.7 L472.5,526.5 L475.5,525.2 L478.5,523.9 L481.5,522.6 L484.5,521.3 L487.5,520.0 L490.5,518.7 L493.5,517.4 L496.5,516.1 L499.5,514.8 L502.5,513.5 L505.5,512.2 L508.5,510.9 L511.5,509.6 L514.5,508.3 L517.5,507.0 L520.5,505.6 L523.5,504.3 L526.5,503.0 L529.5,501.7 L532.5,500.3 L535.5,499.0 L538.5,497.7 L541.5,496.4 L544.5,495.0 L547.5,493.7 L550.5,492.3 L553.5,491.0 L556.5,489.7 L559.5,488.3 L562.5,487.0 L565.5,485.6 L568.5,484.3 L571.5,482.9 L574.5,481.6 L577.5,480.2 L580.5,478.9 L583.5,477.5 L586.5,476.2 L589.5,474.8 L592.5,473.5 L595.5,472.1 L598.5,470.8 L601.5,469.4 L604.5,468.0 L607.5,466.7 L610.5,465.3 L613.5,464.0 L616.5,462.6 L619.5,461.2 L622.5,459.9 L625.5,458.5 L628.5,457.1 L631.5,455.8 L634.5,454.4 L637.5,453.1 L640.5,451.7 L643.5,450.3 L646.5,449.0 L649.5,447.6 L652.5,446.2 L655.5,444.9 L658.5,443.5 L661.5,442.2 L664.5,440.8 L667.5,439.4 L670.5,438.1 L673.5,436.7 L676.5,435.3 L679.5,434.0 L682.5,432.6 L685.5,431.3 L688.5,429.9 L691.5,428.6 L694.5,427.2 L697.5,425.8 L700.5,424.5 L703.5,423.1 L706.5,421.8 L709.5,420.4 L712.5,419.1 L715.5,417.7 L718.5,416.4 L721.5,415.0 L724.5,413.7 L727.5,412.3 L730.5,411.0 L733.5,409.7 L736.5,408.3 L739.5,407.0 L742.5,405.6 L745.5,404.3 L748.5,403.0 L751.5,401.6 L754.5,400.3 L757.5,399.0 L760.5,397.7 L763.5,396.3 L766.5,395.0 L769.5,393.7 L772.5,392.4 L775.5,391.1 L778.5,389.8 L781.5,388.4 L784.5,387.1 L787.5,385.8 L790.5,384.5 L793.5,383.2 L796.5,381.9 L799.5,380.6 L802.5,379.3 L805.5,378.1 L808.5,376.8 L811.5,375.5 L814.5,374.2 L817.5,372.9 L820.5,371.6 L823.5,370.4 L826.5,369.1 L829.5,367.8 L832.5,366.6 L835.5,365.3 L838.5,364.1 L841.5,362.8 L844.5,361.6 L847.5,360.3 L850.5,359.1 L853.5,357.8 L856.5,356.6 L859.5,355.4 L862.5,354.1 L865.5,352.9 L868.5,351.7 L871.5,350.5 L874.5,349.3 L877.5,348.0 L880.5,346.8 L883.5,345.6 L886.5,344.4 L889.5,343.2 L892.5,342.1 L895.5,340.9 L898.5,339.7 L901.5,338.5 L904.5,337.3 L907.5,336.2 L910.5,335.0 L913.5,333.9 L916.5,332.7 L919.5,331.6 L922.5,330.4 L925.5,329.3 L928.5,328.1 L931.5,327.0 L934.5,325.9 L937.5,324.8 L940.5,323.6 L943.5,322.5 L946.5,321.4 L949.5,320.3 L952.5,319.2 L955.5,318.1 L958.5,317.1 L961.5,316.0 L964.5,314.9 L967.5,313.8 L970.5,312.8 L973.5,311.7 L976.5,310.7 L979.5,309.6 L982.5,308.6 L985.5,307.6 L988.5,306.5 L991.5,305.5 L994.5,304.5 L997.5,303.5 L1000.5,302.5 L1003.5,301.5 L1006.5,300.5 L1009.5,299.5 L1012.5,298.5 L1015.5,297.6 L1018.5,296.6 L1021.5,295.6 L1024.5,294.7 L1027.5,293.7 L1030.5,292.8 L1033.5,291.9 L1036.5,290.9 L1039.5,290.0 L1042.5,289.1 L1045.5,288.2 L1048.5,287.3 L1051.5,286.4 L1054.5,285.5 L1057.5,284.6 L1060.5,283.8 L1063.5,282.9 L1066.5,282.0 L1069.5,281.2 L1072.5,280.3 L1075.5,279.5 L1078.5,278.7 L1081.5,277.8 L1084.5,277.0 L1087.5,276.2 L1090.5,275.4 L1093.5,274.6 L1096.5,273.8 L1099.5,273.0 L1102.5,272.3 L1105.5,271.5 L1108.5,270.7 L1111.5,270.0 L1114.5,269.2 L1117.5,268.5 L1120.5,267.7 L1123.5,267.0 L1126.5,266.3 L1129.5,265.6 L1132.5,264.8 L1135.5,264.1 L1138.5,263.4 L1141.5,262.7 L1144.5,262.1 L1147.5,261.4 L1150.5,260.7 L1153.5,260.0 L1156.5,259.4 L1159.5,258.7 L1162.5,258.1 L1165.5,257.5 L1168.5,256.8 L1171.5,256.2 L1174.5,255.6 L1177.5,255.0 L1180.5,254.4 L1183.5,253.8 L1186.5,253.2 L1189.5,252.6 L1192.5,252.0 L1195.5,251.4 L1198.5,250.9 L1201.5,250.3 L1204.5,249.8 L1207.5,249.2 L1210.5,248.7 L1213.5,248.1 L1216.5,247.6 L1219.5,247.1 L1222.5,246.6 L1225.5,246.1 L1228.5,245.6 L1231.5,245.1 L1234.5,244.6 L1237.5,244.1 L1240.5,243.6 L1243.5,243.1 L1246.5,242.7 L1249.5,242.2 L1252.5,241.8 L1255.5,241.3 L1258.5,240.9 L1261.5,240.5 L1264.5,240.0 L1267.5,239.6 L1270.5,239.2 L1273.5,238.8 L1276.5,238.4 L1279.5,238.0 L1282.5,237.6 L1285.5,237.2 L1288.5,236.9 L1291.5,236.5 L1294.5,236.1 L1297.5,235.8 L1300.5,235.4 L1303.5,235.1 L1306.5,234.8 L1309.5,234.4 L1312.5,234.1 L1315.5,233.8 L1318.5,233.5 L1321.5,233.2 L1324.5,232.9 L1327.5,232.6 L1330.5,232.3 L1333.5,232.0 L1336.5,231.7 L1339.5,231.5 L1342.5,231.2 L1345.5,231.0 L1348.5,230.7 L1351.5,230.5 L1354.5,230.2 L1357.5,230.0 L1360.5,229.8 L1363.5,229.6 L1366.5,229.3 L1369.5,229.1 L1372.5,228.9 L1375.5,228.7 L1378.5,228.6 L1381.5,228.4 L1384.5,228.2 L1387.5,228.0 L1390.5,227.9 L1393.5,227.7 L1396.5,227.6 L1399.5,227.4 L1402.5,227.3 L1405.5,227.2 L1408.5,227.0 L1411.5,226.9 L1414.5,226.8 L1417.5,226.7 L1420.5,226.6 L1423.5,226.5 L1426.5,226.4 L1429.5,226.3 L1432.5,226.2 L1435.5,226.2 L1438.5,226.1 L1441.5,226.0 L1444.5,226.0 L1447.5,225.9 L1450.5,225.9 L1453.5,225.9 L1456.5,225.8 L1459.5,225.8 L1462.5,225.8 L1465.5,225.8 L1468.5,225.8 L1471.5,225.8 L1474.5,225.8 L1477.5,225.8 L1480.5,225.8 L1483.5,225.8 L1486.5,225.9 L1489.5,225.9 L1492.5,225.9 L1495.5,226.0 L1498.5,226.0 L1501.5,226.1 L1504.5,226.2 L1507.5,226.2 L1510.5,226.3 L1513.5,226.4 L1516.5,226.5 L1519.5,226.6 L1522.5,226.7 L1525.5,226.8 L1528.5,226.9 L1531.5,227.0 L1534.5,227.1 L1537.5,227.3 L1540.5,227.4 L1543.5,227.5 L1546.5,227.7 L1549.5,227.8 L1552.5,228.0 L1555.5,228.2 L1558.5,228.3 L1561.5,228.5 L1564.5,228.7 L1567.5,228.9 L1570.5,229.1 L1573.5,229.3 L1576.5,229.5 L1579.5,229.7 L1582.5,229.9 L1585.5,230.1 L1588.5,230.4 L1591.5,230.6 L1594.5,230.8 L1597.5,231.1 L1600.5,231.3 L1603.5,231.6 L1606.5,231.8 L1609.5,232.1 L1612.5,232.4 L1615.5,232.6 L1618.5,232.9 L1621.5,233.2 L1624.5,233.5 L1627.5,233.8 L1630.5,234.1 L1633.5,234.4 L1636.5,234.8 L1639.5,235.1 L1642.5,235.4 L1645.5,235.7 L1648.5,236.1 L1651.5,236.4 L1654.5,236.8 L1657.5,237.1 L1660.5,237.5 L1663.5,237.9 L1666.5,238.2 L1669.5,238.6 L1672.5,239.0 L1675.5,239.4 L1678.5,239.8 L1681.5,240.2 L1684.5,240.6 L1687.5,241.0 L1690.5,241.4 L1693.5,241.9 L1696.5,242.3 L1699.5,242.7 L1702.5,243.2 L1705.5,243.7 L1708.5,244.1 L1711.5,244.6 L1714.5,245.1 L1717.5,245.5 L1720.5,246.0 L1723.5,246.5 L1726.5,247.0 L1729.5,247.6 L1732.5,248.1 L1735.5,248.6 L1738.5,249.1 L1741.5,249.7 L1744.5,250.2 L1747.5,250.8 L1750.5,251.4 L1753.5,252.0 L1756.5,252.5 L1759.5,253.1 L1762.5,253.7 L1765.5,254.3 L1768.5,255.0 L1771.5,255.6 L1774.5,256.2 L1777.5,256.9 L1780.5,257.5 L1783.5,258.2 L1786.5,258.9 L1789.5,259.5 L1792.5,260.2 L1795.5,260.9 L1798.5,261.6 L1801.5,262.4 L1804.5,263.1 L1807.5,263.8 L1810.5,264.6 L1813.5,265.3 L1816.5,266.1 L1819.5,266.9 L1822.5,267.7 L1825.5,268.5 L1828.5,269.3 L1831.5,270.1 L1834.5,270.9 L1837.5,271.8 L1840.5,272.6 L1843.5,273.5 L1846.5,274.3 L1849.5,275.2 L1852.5,276.1 L1855.5,277.0 L1858.5,277.9 L1861.5,278.9 L1864.5,279.8 L1867.5,280.7 L1870.5,281.7 L1873.5,282.7 L1876.5,283.6 L1879.5,284.6 L1882.5,285.6 L1885.5,286.7 L1888.5,287.7 L1891.5,288.7 L1893.5,289.4" fill="none" stroke="#0000ff" stroke-width="5.1" stroke-linejoin="round"/>
<g fill="#0000ff"><circle cx="440.4" cy="540.9" r="8.8"/><circle cx="467.8" cy="528.9" r="8.8"/><circle cx="495.2" cy="516.9" r="8.8"/><circle cx="522.7" cy="504.4" r="8.8"/><circle cx="550.1" cy="491.8" r="8.8"/><circle cx="577.5" cy="479.5" r="8.8"/><circle cx="604.9" cy="467.6" r="8.8"/><circle cx="632.3" cy="454.7" r="8.8"/><circle cx="659.8" cy="442.6" r="8.8"/><circle cx="687.2" cy="430.4" r="8.8"/><circle cx="714.6" cy="418.0" r="8.8"/><circle cx="742.0" cy="406.2" r="8.8"/><circle cx="769.4" cy="394.5" r="8.8"/><circle cx="796.8" cy="382.7" r="8.8"/><circle cx="824.2" cy="371.0" r="8.8"/><circle cx="851.7" cy="359.2" r="8.8"/><circle cx="879.1" cy="348.3" r="8.8"/><circle cx="906.5" cy="337.8" r="8.8"/><circle cx="933.9" cy="326.1" r="8.8"/><circle cx="961.3" cy="315.9" r="8.8"/><circle cx="988.8" cy="306.3" r="8.8"/><circle cx="1016.2" cy="296.7" r="8.8"/><circle cx="1043.6" cy="287.6" r="8.8"/><circle cx="1071.0" cy="279.2" r="8.8"/><circle cx="1098.4" cy="271.9" r="8.8"/><circle cx="1125.8" cy="264.9" r="8.8"/><circle cx="1153.2" cy="258.9" r="8.8"/><circle cx="1180.7" cy="254.0" r="8.8"/><circle cx="1208.1" cy="248.1" r="8.8"/><circle cx="1235.5" cy="244.8" r="8.8"/><circle cx="1262.9" cy="241.6" r="8.8"/><circle cx="1290.3" cy="238.7" r="8.8"/><circle cx="1317.8" cy="236.4" r="8.8"/><circle cx="1345.2" cy="231.0" r="8.8"/><circle cx="1372.6" cy="233.0" r="8.8"/><circle cx="1400.0" cy="231.2" r="8.8"/><circle cx="1427.4" cy="230.2" r="8.8"/><circle cx="1454.8" cy="229.4" r="8.8"/><circle cx="1482.2" cy="229.7" r="8.8"/><circle cx="1509.7" cy="229.0" r="8.8"/><circle cx="1537.1" cy="228.9" r="8.8"/><circle cx="1564.5" cy="229.7" r="8.8"/><circle cx="1591.9" cy="228.9" r="8.8"/><circle cx="1619.3" cy="230.0" r="8.8"/><circle cx="1646.8" cy="231.3" r="8.8"/><circle cx="1674.2" cy="233.3" r="8.8"/><circle cx="1701.6" cy="232.5" r="8.8"/><circle cx="1729.0" cy="234.1" r="8.8"/><circle cx="1756.4" cy="236.5" r="8.8"/><circle cx="1783.8" cy="243.8" r="8.8"/><circle cx="1811.2" cy="252.4" r="8.8"/><circle cx="1838.7" cy="271.5" r="8.8"/><circle cx="1866.1" cy="288.6" r="8.8"/><circle cx="1893.5" cy="305.3" r="8.8"/></g>
<path d="M460.5,469.3 L463.5,468.0 L466.5,466.6 L469.5,465.3 L472.5,464.0 L475.5,462.7 L478.5,461.3 L481.5,460.0 L484.5,458.7 L487.5,457.4 L490.5,456.0 L493.5,454.7 L496.5,453.4 L499.5,452.0 L502.5,450.7 L505.5,449.4 L508.5,448.0 L511.5,446.7 L514.5,445.3 L517.5,444.0 L520.5,442.7 L523.5,441.3 L526.5,440.0 L529.5,438.6 L532.5,437.3 L535.5,435.9 L538.5,434.6 L541.5,433.2 L544.5,431.9 L547.5,430.5 L550.5,429.2 L553.5,427.8 L556.5,426.5 L559.5,425.1 L562.5,423.8 L565.5,422.4 L568.5,421.1 L571.5,419.7 L574.5,418.4 L577.5,417.0 L580.5,415.7 L583.5,414.3 L586.5,413.0 L589.5,411.6 L592.5,410.3 L595.5,408.9 L598.5,407.6 L601.5,406.2 L604.5,404.9 L607.5,403.5 L610.5,402.2 L613.5,400.8 L616.5,399.5 L619.5,398.1 L622.5,396.8 L625.5,395.5 L628.5,394.1 L631.5,392.8 L634.5,391.4 L637.5,390.1 L640.5,388.7 L643.5,387.4 L646.5,386.1 L649.5,384.7 L652.5,383.4 L655.5,382.1 L658.5,380.7 L661.5,379.4 L664.5,378.1 L667.5,376.7 L670.5,375.4 L673.5,374.1 L676.5,372.7 L679.5,371.4 L682.5,370.1 L685.5,368.8 L688.5,367.5 L691.5,366.2 L694.5,364.8 L697.5,363.5 L700.5,362.2 L703.5,360.9 L706.5,359.6 L709.5,358.3 L712.5,357.0 L715.5,355.7 L718.5,354.4 L721.5,353.1 L724.5,351.8 L727.5,350.5 L730.5,349.2 L733.5,347.9 L736.5,346.7 L739.5,345.4 L742.5,344.1 L745.5,342.8 L748.5,341.5 L751.5,340.3 L754.5,339.0 L757.5,337.7 L760.5,336.5 L763.5,335.2 L766.5,334.0 L769.5,332.7 L772.5,331.5 L775.5,330.2 L778.5,329.0 L781.5,327.7 L784.5,326.5 L787.5,325.3 L790.5,324.0 L793.5,322.8 L796.5,321.6 L799.5,320.4 L802.5,319.2 L805.5,317.9 L808.5,316.7 L811.5,315.5 L814.5,314.3 L817.5,313.1 L820.5,311.9 L823.5,310.8 L826.5,309.6 L829.5,308.4 L832.5,307.2 L835.5,306.0 L838.5,304.9 L841.5,303.7 L844.5,302.5 L847.5,301.4 L850.5,300.2 L853.5,299.1 L856.5,297.9 L859.5,296.8 L862.5,295.7 L865.5,294.5 L868.5,293.4 L871.5,292.3 L874.5,291.2 L877.5,290.1 L880.5,289.0 L883.5,287.9 L886.5,286.8 L889.5,285.7 L892.5,284.6 L895.5,283.5 L898.5,282.4 L901.5,281.4 L904.5,280.3 L907.5,279.2 L910.5,278.2 L913.5,277.1 L916.5,276.1 L919.5,275.0 L922.5,274.0 L925.5,273.0 L928.5,272.0 L931.5,270.9 L934.5,269.9 L937.5,268.9 L940.5,267.9 L943.5,266.9 L946.5,266.0 L949.5,265.0 L952.5,264.0 L955.5,263.0 L958.5,262.1 L961.5,261.1 L964.5,260.2 L967.5,259.2 L970.5,258.3 L973.5,257.3 L976.5,256.4 L979.5,255.5 L982.5,254.6 L985.5,253.7 L988.5,252.8 L991.5,251.9 L994.5,251.0 L997.5,250.1 L1000.5,249.2 L1003.5,248.4 L1006.5,247.5 L1009.5,246.7 L1012.5,245.8 L1015.5,245.0 L1018.5,244.1 L1021.5,243.3 L1024.5,242.5 L1027.5,241.7 L1030.5,240.9 L1033.5,240.1 L1036.5,239.3 L1039.5,238.5 L1042.5,237.8 L1045.5,237.0 L1048.5,236.2 L1051.5,235.5 L1054.5,234.7 L1057.5,234.0 L1060.5,233.3 L1063.5,232.5 L1066.5,231.8 L1069.5,231.1 L1072.5,230.4 L1075.5,229.7 L1078.5,229.0 L1081.5,228.4 L1084.5,227.7 L1087.5,227.0 L1090.5,226.4 L1093.5,225.7 L1096.5,225.1 L1099.5,224.5 L1102.5,223.8 L1105.5,223.2 L1108.5,222.6 L1111.5,222.0 L1114.5,221.4 L1117.5,220.8 L1120.5,220.2 L1123.5,219.7 L1126.5,219.1 L1129.5,218.5 L1132.5,218.0 L1135.5,217.4 L1138.5,216.9 L1141.5,216.4 L1144.5,215.8 L1147.5,215.3 L1150.5,214.8 L1153.5,214.3 L1156.5,213.8 L1159.5,213.3 L1162.5,212.8 L1165.5,212.4 L1168.5,211.9 L1171.5,211.4 L1174.5,211.0 L1177.5,210.5 L1180.5,210.1 L1183.5,209.7 L1186.5,209.2 L1189.5,208.8 L1192.5,208.4 L1195.5,208.0 L1198.5,207.6 L1201.5,207.2 L1204.5,206.8 L1207.5,206.5 L1210.5,206.1 L1213.5,205.7 L1216.5,205.4 L1219.5,205.0 L1222.5,204.7 L1225.5,204.4 L1228.5,204.0 L1231.5,203.7 L1234.5,203.4 L1237.5,203.1 L1240.5,202.8 L1243.5,202.5 L1246.5,202.2 L1249.5,201.9 L1252.5,201.7 L1255.5,201.4 L1258.5,201.1 L1261.5,200.9 L1264.5,200.6 L1267.5,200.4 L1270.5,200.2 L1273.5,199.9 L1276.5,199.7 L1279.5,199.5 L1282.5,199.3 L1285.5,199.1 L1288.5,198.9 L1291.5,198.7 L1294.5,198.6 L1297.5,198.4 L1300.5,198.2 L1303.5,198.1 L1306.5,197.9 L1309.5,197.8 L1312.5,197.6 L1315.5,197.5 L1318.5,197.4 L1321.5,197.3 L1324.5,197.1 L1327.5,197.0 L1330.5,196.9 L1333.5,196.9 L1336.5,196.8 L1339.5,196.7 L1342.5,196.6 L1345.5,196.6 L1348.5,196.5 L1351.5,196.4 L1354.5,196.4 L1357.5,196.4 L1360.5,196.3 L1363.5,196.3 L1366.5,196.3 L1369.5,196.3 L1372.5,196.3 L1375.5,196.3 L1378.5,196.3 L1381.5,196.3 L1384.5,196.3 L1387.5,196.3 L1390.5,196.4 L1393.5,196.4 L1396.5,196.4 L1399.5,196.5 L1402.5,196.5 L1405.5,196.6 L1408.5,196.7 L1411.5,196.8 L1414.5,196.8 L1417.5,196.9 L1420.5,197.0 L1423.5,197.1 L1426.5,197.2 L1429.5,197.3 L1432.5,197.5 L1435.5,197.6 L1438.5,197.7 L1441.5,197.9 L1444.5,198.0 L1447.5,198.2 L1450.5,198.3 L1453.5,198.5 L1456.5,198.7 L1459.5,198.8 L1462.5,199.0 L1465.5,199.2 L1468.5,199.4 L1471.5,199.6 L1474.5,199.8 L1477.5,200.0 L1480.5,200.2 L1483.5,200.5 L1486.5,200.7 L1489.5,200.9 L1492.5,201.2 L1495.5,201.4 L1498.5,201.7 L1501.5,202.0 L1504.5,202.2 L1507.5,202.5 L1510.5,202.8 L1513.5,203.1 L1516.5,203.4 L1519.5,203.7 L1522.5,204.0 L1525.5,204.3 L1528.5,204.6 L1531.5,204.9 L1534.5,205.2 L1537.5,205.6 L1540.5,205.9 L1543.5,206.3 L1546.5,206.6 L1549.5,207.0 L1552.5,207.3 L1555.5,207.7 L1558.5,208.1 L1561.5,208.5 L1564.5,208.8 L1567.5,209.2 L1570.5,209.6 L1573.5,210.0 L1576.5,210.5 L1579.5,210.9 L1582.5,211.3 L1585.5,211.7 L1588.5,212.2 L1591.5,212.6 L1594.5,213.0 L1597.5,213.5 L1600.5,213.9 L1603.5,214.4 L1606.5,214.9 L1609.5,215.4 L1612.5,215.8 L1615.5,216.3 L1618.5,216.8 L1621.5,217.3 L1624.5,217.8 L1627.5,218.3 L1630.5,218.8 L1633.5,219.4 L1636.5,219.9 L1639.5,220.4 L1642.5,221.0 L1645.5,221.5 L1648.5,222.1 L1651.5,222.7 L1654.5,223.2 L1657.5,223.8 L1660.5,224.4 L1663.5,225.0 L1666.5,225.6 L1669.5,226.2 L1672.5,226.8 L1675.5,227.4 L1678.5,228.1 L1681.5,228.7 L1684.5,229.4 L1687.5,230.0 L1690.5,230.7 L1693.5,231.4 L1696.5,232.0 L1699.5,232.7 L1702.5,233.4 L1705.5,234.1 L1708.5,234.9 L1711.5,235.6 L1714.5,236.3 L1717.5,237.1 L1720.5,237.8 L1723.5,238.6 L1726.5,239.4 L1729.5,240.1 L1732.5,240.9 L1735.5,241.7 L1738.5,242.5 L1741.5,243.4 L1744.5,244.2 L1747.5,245.0 L1750.5,245.9 L1753.5,246.7 L1756.5,247.6 L1759.5,248.5 L1762.5,249.4 L1765.5,250.3 L1768.5,251.2 L1771.5,252.1 L1774.5,253.0 L1777.5,254.0 L1780.5,254.9 L1783.5,255.9 L1786.5,256.9 L1789.5,257.9 L1792.5,258.9 L1795.5,259.9 L1798.5,260.9 L1801.5,261.9 L1804.5,263.0 L1807.5,264.0 L1810.5,265.1 L1813.5,266.1 L1816.5,267.2 L1819.5,268.3 L1822.5,269.4 L1825.5,270.5 L1828.5,271.6 L1831.5,272.7 L1834.5,273.9 L1837.5,275.0 L1840.5,276.2 L1843.5,277.4 L1846.5,278.5 L1849.5,279.7 L1852.5,280.9 L1855.5,282.1 L1858.5,283.3 L1861.5,284.5 L1864.5,285.8 L1867.5,287.0 L1870.5,288.3 L1873.5,289.5 L1876.5,290.8 L1879.5,292.1 L1882.5,293.4 L1885.5,294.6 L1888.5,295.9 L1891.5,297.3 L1893.5,298.1" fill="none" stroke="#008000" stroke-width="5.1" stroke-linejoin="round"/>
<g fill="#008000"><circle cx="303.3" cy="540.9" r="8.8"/><circle cx="330.8" cy="528.9" r="8.8"/><circle cx="358.2" cy="516.5" r="8.8"/><circle cx="385.6" cy="503.8" r="8.8"/><circle cx="413.0" cy="490.8" r="8.8"/><circle cx="440.4" cy="477.7" r="8.8"/><circle cx="467.8" cy="466.1" r="8.8"/><circle cx="495.2" cy="453.7" r="8.8"/><circle cx="522.7" cy="441.6" r="8.8"/><circle cx="550.1" cy="428.6" r="8.8"/><circle cx="577.5" cy="416.9" r="8.8"/><circle cx="604.9" cy="404.7" r="8.8"/><circle cx="632.3" cy="392.4" r="8.8"/><circle cx="659.8" cy="380.6" r="8.8"/><circle cx="687.2" cy="368.9" r="8.8"/><circle cx="714.6" cy="356.5" r="8.8"/><circle cx="742.0" cy="344.9" r="8.8"/><circle cx="769.4" cy="333.6" r="8.8"/><circle cx="796.8" cy="321.9" r="8.8"/><circle cx="824.2" cy="310.8" r="8.8"/><circle cx="851.7" cy="299.4" r="8.8"/><circle cx="879.1" cy="289.4" r="8.8"/><circle cx="906.5" cy="279.2" r="8.8"/><circle cx="933.9" cy="268.7" r="8.8"/><circle cx="961.3" cy="259.7" r="8.8"/><circle cx="988.8" cy="251.8" r="8.8"/><circle cx="1016.2" cy="243.9" r="8.8"/><circle cx="1043.6" cy="236.9" r="8.8"/><circle cx="1071.0" cy="230.3" r="8.8"/><circle cx="1098.4" cy="225.1" r="8.8"/><circle cx="1125.8" cy="220.3" r="8.8"/><circle cx="1153.2" cy="215.9" r="8.8"/><circle cx="1180.7" cy="213.1" r="8.8"/><circle cx="1208.1" cy="209.5" r="8.8"/><circle cx="1235.5" cy="207.5" r="8.8"/><circle cx="1262.9" cy="206.1" r="8.8"/><circle cx="1290.3" cy="204.6" r="8.8"/><circle cx="1317.8" cy="203.6" r="8.8"/><circle cx="1345.2" cy="200.0" r="8.8"/><circle cx="1372.6" cy="202.6" r="8.8"/><circle cx="1400.0" cy="202.0" r="8.8"/><circle cx="1427.4" cy="202.2" r="8.8"/><circle cx="1454.8" cy="202.6" r="8.8"/><circle cx="1482.2" cy="203.8" r="8.8"/><circle cx="1509.7" cy="205.3" r="8.8"/><circle cx="1537.1" cy="206.1" r="8.8"/><circle cx="1564.5" cy="208.2" r="8.8"/><circle cx="1591.9" cy="210.1" r="8.8"/><circle cx="1619.3" cy="212.7" r="8.8"/><circle cx="1646.8" cy="216.0" r="8.8"/><circle cx="1674.2" cy="222.0" r="8.8"/><circle cx="1701.6" cy="226.1" r="8.8"/><circle cx="1729.0" cy="232.0" r="8.8"/><circle cx="1756.4" cy="239.3" r="8.8"/><circle cx="1783.8" cy="249.5" r="8.8"/><circle cx="1811.2" cy="261.7" r="8.8"/><circle cx="1838.7" cy="279.7" r="8.8"/><circle cx="1866.1" cy="295.5" r="8.8"/><circle cx="1893.5" cy="311.4" r="8.8"/></g>
<path d="M460.5,826.4 L463.5,826.7 L466.5,827.0 L469.5,827.3 L472.5,827.6 L475.5,827.9 L478.5,828.1 L481.5,828.4 L484.5,828.7 L487.5,829.0 L490.5,829.2 L493.5,829.5 L496.5,829.8 L499.5,830.1 L502.5,830.3 L505.5,830.6 L508.5,830.9 L511.5,831.1 L514.5,831.4 L517.5,831.6 L520.5,831.9 L523.5,832.2 L526.5,832.4 L529.5,832.7 L532.5,832.9 L535.5,833.2 L538.5,833.4 L541.5,833.7 L544.5,834.0 L547.5,834.2 L550.5,834.5 L553.5,834.7 L556.5,835.0 L559.5,835.2 L562.5,835.5 L565.5,835.7 L568.5,835.9 L571.5,836.2 L574.5,836.4 L577.5,836.7 L580.5,836.9 L583.5,837.2 L586.5,837.4 L589.5,837.7 L592.5,837.9 L595.5,838.2 L598.5,838.4 L601.5,838.7 L604.5,838.9 L607.5,839.2 L610.5,839.4 L613.5,839.7 L616.5,839.9 L619.5,840.2 L622.5,840.4 L625.5,840.7 L628.5,840.9 L631.5,841.2 L634.5,841.4 L637.5,841.7 L640.5,841.9 L643.5,842.2 L646.5,842.5 L649.5,842.7 L652.5,843.0 L655.5,843.2 L658.5,843.5 L661.5,843.8 L664.5,844.0 L667.5,844.3 L670.5,844.6 L673.5,844.8 L676.5,845.1 L679.5,845.4 L682.5,845.6 L685.5,845.9 L688.5,846.2 L691.5,846.5 L694.5,846.7 L697.5,847.0 L700.5,847.3 L703.5,847.6 L706.5,847.9 L709.5,848.2 L712.5,848.5 L715.5,848.8 L718.5,849.1 L721.5,849.4 L724.5,849.7 L727.5,850.0 L730.5,850.3 L733.5,850.6 L736.5,850.9 L739.5,851.2 L742.5,851.5 L745.5,851.8 L748.5,852.2 L751.5,852.5 L754.5,852.8 L757.5,853.1 L760.5,853.5 L763.5,853.8 L766.5,854.1 L769.5,854.5 L772.5,854.8 L775.5,855.2 L778.5,855.5 L781.5,855.9 L784.5,856.2 L787.5,856.6 L790.5,857.0 L793.5,857.3 L796.5,857.7 L799.5,858.1 L802.5,858.5 L805.5,858.9 L808.5,859.2 L811.5,859.6 L814.5,860.0 L817.5,860.4 L820.5,860.8 L823.5,861.2 L826.5,861.6 L829.5,862.1 L832.5,862.5 L835.5,862.9 L838.5,863.3 L841.5,863.8 L844.5,864.2 L847.5,864.6 L850.5,865.1 L853.5,865.5 L856.5,866.0 L859.5,866.4 L862.5,866.9 L865.5,867.4 L868.5,867.8 L871.5,868.3 L874.5,868.8 L877.5,869.3 L880.5,869.8 L883.5,870.3 L886.5,870.8 L889.5,871.3 L892.5,871.8 L895.5,872.3 L898.5,872.8 L901.5,873.4 L904.5,873.9 L907.5,874.4 L910.5,875.0 L913.5,875.5 L916.5,876.1 L919.5,876.7 L922.5,877.2 L925.5,877.8 L928.5,878.4 L931.5,879.0 L934.5,879.5 L937.5,880.1 L940.5,880.7 L943.5,881.4 L946.5,882.0 L949.5,882.6 L952.5,883.2 L955.5,883.9 L958.5,884.5 L961.5,885.1 L964.5,885.8 L967.5,886.4 L970.5,887.1 L973.5,887.8 L976.5,888.5 L979.5,889.1 L982.5,889.8 L985.5,890.5 L988.5,891.2 L991.5,892.0 L994.5,892.7 L997.5,893.4 L1000.5,894.1 L1003.5,894.9 L1006.5,895.6 L1009.5,896.4 L1012.5,897.1 L1015.5,897.9 L1018.5,898.7 L1021.5,899.4 L1024.5,900.2 L1027.5,901.0 L1030.5,901.8 L1033.5,902.6 L1036.5,903.4 L1039.5,904.2 L1042.5,905.0 L1045.5,905.8 L1048.5,906.7 L1051.5,907.5 L1054.5,908.3 L1057.5,909.2 L1060.5,910.0 L1063.5,910.9 L1066.5,911.7 L1069.5,912.6 L1072.5,913.5 L1075.5,914.3 L1078.5,915.2 L1081.5,916.1 L1084.5,917.0 L1087.5,917.8 L1090.5,918.7 L1093.5,919.6 L1096.5,920.5 L1099.5,921.4 L1102.5,922.3 L1105.5,923.2 L1108.5,924.1 L1111.5,925.0 L1114.5,926.0 L1117.5,926.9 L1120.5,927.8 L1123.5,928.7 L1126.5,929.7 L1129.5,930.6 L1132.5,931.5 L1135.5,932.5 L1138.5,933.4 L1141.5,934.3 L1144.5,935.3 L1147.5,936.2 L1150.5,937.2 L1153.5,938.1 L1156.5,939.1 L1159.5,940.0 L1162.5,941.0 L1165.5,941.9 L1168.5,942.9 L1171.5,943.8 L1174.5,944.8 L1177.5,945.8 L1180.5,946.7 L1183.5,947.7 L1186.5,948.7 L1189.5,949.6 L1192.5,950.6 L1195.5,951.6 L1198.5,952.5 L1201.5,953.5 L1204.5,954.5 L1207.5,955.4 L1210.5,956.4 L1213.5,957.4 L1216.5,958.3 L1219.5,959.3 L1222.5,960.3 L1225.5,961.2 L1228.5,962.2 L1231.5,963.2 L1234.5,964.1 L1237.5,965.1 L1240.5,966.1 L1243.5,967.0 L1246.5,968.0 L1249.5,969.0 L1252.5,969.9 L1255.5,970.9 L1258.5,971.9 L1261.5,972.8 L1264.5,973.8 L1267.5,974.7 L1270.5,975.7 L1273.5,976.6 L1276.5,977.6 L1279.5,978.5 L1282.5,979.5 L1285.5,980.4 L1288.5,981.4 L1291.5,982.3 L1294.5,983.3 L1297.5,984.2 L1300.5,985.1 L1303.5,986.1 L1306.5,987.0 L1309.5,988.0 L1312.5,988.9 L1315.5,989.8 L1318.5,990.8 L1321.5,991.7 L1324.5,992.6 L1327.5,993.5 L1330.5,994.5 L1333.5,995.4 L1336.5,996.3 L1339.5,997.2 L1342.5,998.1 L1345.5,999.1 L1348.5,1000.0 L1351.5,1000.9 L1354.5,1001.8 L1357.5,1002.7 L1360.5,1003.6 L1363.5,1004.5 L1366.5,1005.4 L1369.5,1006.3 L1372.5,1007.3 L1375.5,1008.2 L1378.5,1009.1 L1381.5,1010.0 L1384.5,1010.8 L1387.5,1011.7 L1390.5,1012.6 L1393.5,1013.5 L1396.5,1014.4 L1399.5,1015.3 L1402.5,1016.2 L1405.5,1017.1 L1408.5,1018.0 L1411.5,1018.9 L1414.5,1019.7 L1417.5,1020.6 L1420.5,1021.5 L1423.5,1022.4 L1426.5,1023.2 L1429.5,1024.1 L1432.5,1025.0 L1435.5,1025.9 L1438.5,1026.7 L1441.5,1027.6 L1444.5,1028.5 L1447.5,1029.3 L1450.5,1030.2 L1453.5,1031.0 L1456.5,1031.9 L1459.5,1032.8 L1462.5,1033.6 L1465.5,1034.5 L1468.5,1035.3 L1471.5,1036.2 L1474.5,1037.0 L1477.5,1037.9 L1480.5,1038.7 L1483.5,1039.6 L1486.5,1040.4 L1489.5,1041.2 L1492.5,1042.1 L1495.5,1042.9 L1498.5,1043.8 L1501.5,1044.6 L1504.5,1045.4 L1507.5,1046.2 L1510.5,1047.1 L1513.5,1047.9 L1516.5,1048.7 L1519.5,1049.5 L1522.5,1050.4 L1525.5,1051.2 L1528.5,1052.0 L1531.5,1052.8 L1534.5,1053.6 L1537.5,1054.5 L1540.5,1055.3 L1543.5,1056.1 L1546.5,1056.9 L1549.5,1057.7 L1552.5,1058.5 L1555.5,1059.3 L1558.5,1060.1 L1561.5,1060.9 L1564.5,1061.7 L1567.5,1062.5 L1570.5,1063.3 L1573.5,1064.1 L1576.5,1064.9 L1579.5,1065.7 L1582.5,1066.5 L1585.5,1067.3 L1588.5,1068.1 L1591.5,1068.9 L1594.5,1069.7 L1597.5,1070.5 L1600.5,1071.3 L1603.5,1072.0 L1606.5,1072.8 L1609.5,1073.6 L1612.5,1074.4 L1615.5,1075.2 L1618.5,1076.0 L1621.5,1076.8 L1624.5,1077.6 L1627.5,1078.4 L1630.5,1079.2 L1633.5,1080.0 L1636.5,1080.8 L1639.5,1081.6 L1642.5,1082.4 L1645.5,1083.2 L1648.5,1084.0 L1651.5,1084.8 L1654.5,1085.6 L1657.5,1086.4 L1660.5,1087.2 L1663.5,1088.0 L1666.5,1088.8 L1669.5,1089.6 L1672.5,1090.5 L1675.5,1091.3 L1678.5,1092.1 L1681.5,1092.9 L1684.5,1093.7 L1687.5,1094.6 L1690.5,1095.4 L1693.5,1096.2 L1696.5,1097.0 L1699.5,1097.9 L1702.5,1098.7 L1705.5,1099.5 L1708.5,1100.4 L1711.5,1101.2 L1714.5,1102.1 L1717.5,1102.9 L1720.5,1103.8 L1723.5,1104.6 L1726.5,1105.5 L1729.5,1106.4 L1732.5,1107.2 L1735.5,1108.1 L1738.5,1109.0 L1741.5,1109.8 L1744.5,1110.7 L1747.5,1111.6 L1750.5,1112.5 L1753.5,1113.4 L1756.5,1114.3 L1759.5,1115.2 L1762.5,1116.1 L1765.5,1117.0 L1768.5,1117.9 L1771.5,1118.8 L1774.5,1119.7 L1777.5,1120.7 L1780.5,1121.6 L1783.5,1122.5 L1786.5,1123.5 L1789.5,1124.4 L1792.5,1125.3 L1795.5,1126.3 L1798.5,1127.3 L1801.5,1128.2 L1804.5,1129.2 L1807.5,1130.2 L1810.5,1131.1 L1813.5,1132.1 L1816.5,1133.1 L1819.5,1134.1 L1822.5,1135.1 L1825.5,1136.1 L1828.5,1137.1 L1831.5,1138.2 L1834.5,1139.2 L1837.5,1140.2 L1840.5,1141.3 L1843.5,1142.3 L1846.5,1143.3 L1849.5,1144.4 L1852.5,1145.5 L1855.5,1146.5 L1858.5,1147.6 L1861.5,1148.7 L1864.5,1149.8 L1867.5,1150.9 L1870.5,1152.0 L1873.5,1153.1 L1876.5,1154.2 L1879.5,1155.3 L1882.5,1156.5 L1885.5,1157.6 L1888.5,1158.8 L1891.5,1159.9 L1893.5,1160.7" fill="none" stroke="#ff0000" stroke-width="5.1" stroke-linejoin="round"/>
<g fill="#ff0000"><circle cx="248.5" cy="834.5" r="8.8"/><circle cx="275.9" cy="835.2" r="8.8"/><circle cx="303.3" cy="834.6" r="8.8"/><circle cx="330.8" cy="836.5" r="8.8"/><circle cx="358.2" cy="836.5" r="8.8"/><circle cx="385.6" cy="836.6" r="8.8"/><circle cx="413.0" cy="837.5" r="8.8"/><circle cx="440.4" cy="838.4" r="8.8"/><circle cx="467.8" cy="839.4" r="8.8"/><circle cx="495.2" cy="840.7" r="8.8"/><circle cx="522.7" cy="842.3" r="8.8"/><circle cx="550.1" cy="843.2" r="8.8"/><circle cx="577.5" cy="844.8" r="8.8"/><circle cx="604.9" cy="846.2" r="8.8"/><circle cx="632.3" cy="847.4" r="8.8"/><circle cx="659.8" cy="849.1" r="8.8"/><circle cx="687.2" cy="849.9" r="8.8"/><circle cx="714.6" cy="851.8" r="8.8"/><circle cx="742.0" cy="854.8" r="8.8"/><circle cx="769.4" cy="857.7" r="8.8"/><circle cx="796.8" cy="859.7" r="8.8"/><circle cx="824.2" cy="862.6" r="8.8"/><circle cx="851.7" cy="867.8" r="8.8"/><circle cx="879.1" cy="870.4" r="8.8"/><circle cx="906.5" cy="875.3" r="8.8"/><circle cx="933.9" cy="880.2" r="8.8"/><circle cx="961.3" cy="885.6" r="8.8"/><circle cx="988.8" cy="891.3" r="8.8"/><circle cx="1016.2" cy="896.5" r="8.8"/><circle cx="1043.6" cy="905.1" r="8.8"/><circle cx="1071.0" cy="912.1" r="8.8"/><circle cx="1098.4" cy="920.6" r="8.8"/><circle cx="1125.8" cy="927.9" r="8.8"/><circle cx="1153.2" cy="936.5" r="8.8"/><circle cx="1180.7" cy="946.7" r="8.8"/><circle cx="1208.1" cy="956.7" r="8.8"/><circle cx="1235.5" cy="964.6" r="8.8"/><circle cx="1262.9" cy="973.9" r="8.8"/><circle cx="1290.3" cy="982.9" r="8.8"/><circle cx="1317.8" cy="991.0" r="8.8"/><circle cx="1345.2" cy="997.7" r="8.8"/><circle cx="1372.6" cy="1009.0" r="8.8"/><circle cx="1400.0" cy="1015.8" r="8.8"/><circle cx="1427.4" cy="1024.8" r="8.8"/><circle cx="1454.8" cy="1033.3" r="8.8"/><circle cx="1482.2" cy="1038.7" r="8.8"/><circle cx="1509.7" cy="1046.2" r="8.8"/><circle cx="1537.1" cy="1052.6" r="8.8"/><circle cx="1564.5" cy="1061.5" r="8.8"/><circle cx="1591.9" cy="1069.0" r="8.8"/><circle cx="1619.3" cy="1076.5" r="8.8"/><circle cx="1646.8" cy="1085.2" r="8.8"/><circle cx="1674.2" cy="1095.3" r="8.8"/><circle cx="1701.6" cy="1107.0" r="8.8"/><circle cx="1729.0" cy="1119.1" r="8.8"/><circle cx="1756.4" cy="1139.0" r="8.8"/><circle cx="1783.8" cy="1160.4" r="8.8"/><circle cx="1811.2" cy="1192.3" r="8.8"/><circle cx="1838.7" cy="1213.6" r="8.8"/><circle cx="1866.1" cy="1229.5" r="8.8"/><circle cx="1893.5" cy="1233.4" r="8.8"/></g>
<path d="M460.5,830.7 L463.5,831.0 L466.5,831.4 L469.5,831.7 L472.5,832.0 L475.5,832.3 L478.5,832.7 L481.5,833.0 L484.5,833.3 L487.5,833.6 L490.5,833.9 L493.5,834.3 L496.5,834.6 L499.5,834.9 L502.5,835.2 L505.5,835.5 L508.5,835.8 L511.5,836.1 L514.5,836.4 L517.5,836.7 L520.5,837.0 L523.5,837.3 L526.5,837.6 L529.5,837.9 L532.5,838.2 L535.5,838.5 L538.5,838.8 L541.5,839.1 L544.5,839.4 L547.5,839.7 L550.5,839.9 L553.5,840.2 L556.5,840.5 L559.5,840.8 L562.5,841.1 L565.5,841.4 L568.5,841.7 L571.5,842.0 L574.5,842.2 L577.5,842.5 L580.5,842.8 L583.5,843.1 L586.5,843.4 L589.5,843.7 L592.5,844.0 L595.5,844.2 L598.5,844.5 L601.5,844.8 L604.5,845.1 L607.5,845.4 L610.5,845.7 L613.5,846.0 L616.5,846.3 L619.5,846.5 L622.5,846.8 L625.5,847.1 L628.5,847.4 L631.5,847.7 L634.5,848.0 L637.5,848.3 L640.5,848.6 L643.5,848.9 L646.5,849.2 L649.5,849.5 L652.5,849.8 L655.5,850.1 L658.5,850.4 L661.5,850.7 L664.5,851.0 L667.5,851.3 L670.5,851.6 L673.5,851.9 L676.5,852.3 L679.5,852.6 L682.5,852.9 L685.5,853.2 L688.5,853.5 L691.5,853.8 L694.5,854.2 L697.5,854.5 L700.5,854.8 L703.5,855.2 L706.5,855.5 L709.5,855.8 L712.5,856.2 L715.5,856.5 L718.5,856.8 L721.5,857.2 L724.5,857.5 L727.5,857.9 L730.5,858.2 L733.5,858.6 L736.5,859.0 L739.5,859.3 L742.5,859.7 L745.5,860.1 L748.5,860.4 L751.5,860.8 L754.5,861.2 L757.5,861.6 L760.5,862.0 L763.5,862.3 L766.5,862.7 L769.5,863.1 L772.5,863.5 L775.5,863.9 L778.5,864.3 L781.5,864.7 L784.5,865.2 L787.5,865.6 L790.5,866.0 L793.5,866.4 L796.5,866.9 L799.5,867.3 L802.5,867.7 L805.5,868.2 L808.5,868.6 L811.5,869.1 L814.5,869.5 L817.5,870.0 L820.5,870.5 L823.5,870.9 L826.5,871.4 L829.5,871.9 L832.5,872.4 L835.5,872.9 L838.5,873.3 L841.5,873.8 L844.5,874.3 L847.5,874.9 L850.5,875.4 L853.5,875.9 L856.5,876.4 L859.5,876.9 L862.5,877.5 L865.5,878.0 L868.5,878.6 L871.5,879.1 L874.5,879.7 L877.5,880.2 L880.5,880.8 L883.5,881.4 L886.5,882.0 L889.5,882.5 L892.5,883.1 L895.5,883.7 L898.5,884.3 L901.5,884.9 L904.5,885.6 L907.5,886.2 L910.5,886.8 L913.5,887.4 L916.5,888.1 L919.5,888.7 L922.5,889.4 L925.5,890.1 L928.5,890.7 L931.5,891.4 L934.5,892.1 L937.5,892.8 L940.5,893.5 L943.5,894.2 L946.5,894.9 L949.5,895.6 L952.5,896.3 L955.5,897.0 L958.5,897.8 L961.5,898.5 L964.5,899.3 L967.5,900.0 L970.5,900.8 L973.5,901.6 L976.5,902.4 L979.5,903.1 L982.5,903.9 L985.5,904.7 L988.5,905.6 L991.5,906.4 L994.5,907.2 L997.5,908.0 L1000.5,908.9 L1003.5,909.7 L1006.5,910.6 L1009.5,911.5 L1012.5,912.3 L1015.5,913.2 L1018.5,914.1 L1021.5,915.0 L1024.5,915.9 L1027.5,916.8 L1030.5,917.7 L1033.5,918.6 L1036.5,919.5 L1039.5,920.5 L1042.5,921.4 L1045.5,922.3 L1048.5,923.3 L1051.5,924.2 L1054.5,925.2 L1057.5,926.1 L1060.5,927.1 L1063.5,928.1 L1066.5,929.0 L1069.5,930.0 L1072.5,931.0 L1075.5,932.0 L1078.5,933.0 L1081.5,934.0 L1084.5,934.9 L1087.5,935.9 L1090.5,936.9 L1093.5,937.9 L1096.5,939.0 L1099.5,940.0 L1102.5,941.0 L1105.5,942.0 L1108.5,943.0 L1111.5,944.0 L1114.5,945.0 L1117.5,946.1 L1120.5,947.1 L1123.5,948.1 L1126.5,949.1 L1129.5,950.2 L1132.5,951.2 L1135.5,952.2 L1138.5,953.2 L1141.5,954.3 L1144.5,955.3 L1147.5,956.3 L1150.5,957.4 L1153.5,958.4 L1156.5,959.4 L1159.5,960.5 L1162.5,961.5 L1165.5,962.5 L1168.5,963.6 L1171.5,964.6 L1174.5,965.6 L1177.5,966.6 L1180.5,967.7 L1183.5,968.7 L1186.5,969.7 L1189.5,970.7 L1192.5,971.8 L1195.5,972.8 L1198.5,973.8 L1201.5,974.8 L1204.5,975.8 L1207.5,976.8 L1210.5,977.8 L1213.5,978.8 L1216.5,979.8 L1219.5,980.8 L1222.5,981.8 L1225.5,982.8 L1228.5,983.8 L1231.5,984.8 L1234.5,985.8 L1237.5,986.7 L1240.5,987.7 L1243.5,988.7 L1246.5,989.6 L1249.5,990.6 L1252.5,991.5 L1255.5,992.5 L1258.5,993.4 L1261.5,994.4 L1264.5,995.3 L1267.5,996.3 L1270.5,997.2 L1273.5,998.1 L1276.5,999.1 L1279.5,1000.0 L1282.5,1000.9 L1285.5,1001.8 L1288.5,1002.7 L1291.5,1003.6 L1294.5,1004.6 L1297.5,1005.5 L1300.5,1006.4 L1303.5,1007.3 L1306.5,1008.2 L1309.5,1009.1 L1312.5,1009.9 L1315.5,1010.8 L1318.5,1011.7 L1321.5,1012.6 L1324.5,1013.5 L1327.5,1014.4 L1330.5,1015.2 L1333.5,1016.1 L1336.5,1017.0 L1339.5,1017.9 L1342.5,1018.7 L1345.5,1019.6 L1348.5,1020.5 L1351.5,1021.3 L1354.5,1022.2 L1357.5,1023.0 L1360.5,1023.9 L1363.5,1024.8 L1366.5,1025.6 L1369.5,1026.5 L1372.5,1027.3 L1375.5,1028.2 L1378.5,1029.0 L1381.5,1029.9 L1384.5,1030.7 L1387.5,1031.6 L1390.5,1032.4 L1393.5,1033.2 L1396.5,1034.1 L1399.5,1034.9 L1402.5,1035.8 L1405.5,1036.6 L1408.5,1037.4 L1411.5,1038.3 L1414.5,1039.1 L1417.5,1039.9 L1420.5,1040.8 L1423.5,1041.6 L1426.5,1042.4 L1429.5,1043.3 L1432.5,1044.1 L1435.5,1044.9 L1438.5,1045.8 L1441.5,1046.6 L1444.5,1047.4 L1447.5,1048.3 L1450.5,1049.1 L1453.5,1049.9 L1456.5,1050.8 L1459.5,1051.6 L1462.5,1052.4 L1465.5,1053.3 L1468.5,1054.1 L1471.5,1054.9 L1474.5,1055.8 L1477.5,1056.6 L1480.5,1057.4 L1483.5,1058.3 L1486.5,1059.1 L1489.5,1060.0 L1492.5,1060.8 L1495.5,1061.6 L1498.5,1062.5 L1501.5,1063.3 L1504.5,1064.2 L1507.5,1065.0 L1510.5,1065.8 L1513.5,1066.7 L1516.5,1067.5 L1519.5,1068.4 L1522.5,1069.2 L1525.5,1070.1 L1528.5,1070.9 L1531.5,1071.8 L1534.5,1072.6 L1537.5,1073.5 L1540.5,1074.4 L1543.5,1075.2 L1546.5,1076.1 L1549.5,1076.9 L1552.5,1077.8 L1555.5,1078.7 L1558.5,1079.5 L1561.5,1080.4 L1564.5,1081.3 L1567.5,1082.1 L1570.5,1083.0 L1573.5,1083.9 L1576.5,1084.7 L1579.5,1085.6 L1582.5,1086.5 L1585.5,1087.4 L1588.5,1088.3 L1591.5,1089.1 L1594.5,1090.0 L1597.5,1090.9 L1600.5,1091.8 L1603.5,1092.7 L1606.5,1093.6 L1609.5,1094.5 L1612.5,1095.3 L1615.5,1096.2 L1618.5,1097.1 L1621.5,1098.0 L1624.5,1098.9 L1627.5,1099.8 L1630.5,1100.7 L1633.5,1101.6 L1636.5,1102.5 L1639.5,1103.4 L1642.5,1104.4 L1645.5,1105.3 L1648.5,1106.2 L1651.5,1107.1 L1654.5,1108.0 L1657.5,1108.9 L1660.5,1109.8 L1663.5,1110.8 L1666.5,1111.7 L1669.5,1112.6 L1672.5,1113.5 L1675.5,1114.5 L1678.5,1115.4 L1681.5,1116.3 L1684.5,1117.3 L1687.5,1118.2 L1690.5,1119.1 L1693.5,1120.1 L1696.5,1121.0 L1699.5,1121.9 L1702.5,1122.9 L1705.5,1123.8 L1708.5,1124.8 L1711.5,1125.7 L1714.5,1126.7 L1717.5,1127.6 L1720.5,1128.6 L1723.5,1129.6 L1726.5,1130.5 L1729.5,1131.5 L1732.5,1132.5 L1735.5,1133.4 L1738.5,1134.4 L1741.5,1135.4 L1744.5,1136.3 L1747.5,1137.3 L1750.5,1138.3 L1753.5,1139.3 L1756.5,1140.2 L1759.5,1141.2 L1762.5,1142.2 L1765.5,1143.2 L1768.5,1144.2 L1771.5,1145.1 L1774.5,1146.1 L1777.5,1147.1 L1780.5,1148.1 L1783.5,1149.0 L1786.5,1150.0 L1789.5,1150.9 L1792.5,1151.9 L1795.5,1152.8 L1798.5,1153.8 L1801.5,1154.7 L1804.5,1155.6 L1807.5,1156.6 L1810.5,1157.5 L1813.5,1158.4 L1816.5,1159.3 L1819.5,1160.2 L1822.5,1161.1 L1825.5,1161.9 L1828.5,1162.8 L1831.5,1163.6 L1834.5,1164.5 L1837.5,1165.3 L1840.5,1166.1 L1843.5,1166.9 L1846.5,1167.7 L1849.5,1168.5 L1852.5,1169.2 L1855.5,1170.0 L1858.5,1170.7 L1861.5,1171.4 L1864.5,1172.1 L1867.5,1172.8 L1870.5,1173.5 L1873.5,1174.1 L1876.5,1174.7 L1879.5,1175.3 L1882.5,1175.9 L1885.5,1176.5 L1888.5,1177.1 L1891.5,1177.6 L1893.5,1177.9" fill="none" stroke="#0000ff" stroke-width="5.1" stroke-linejoin="round"/>
<g fill="#0000ff"><circle cx="248.5" cy="835.5" r="8.8"/><circle cx="275.9" cy="836.1" r="8.8"/><circle cx="303.3" cy="835.5" r="8.8"/><circle cx="330.8" cy="837.3" r="8.8"/><circle cx="358.2" cy="837.3" r="8.8"/><circle cx="385.6" cy="837.5" r="8.8"/><circle cx="413.0" cy="838.5" r="8.8"/><circle cx="440.4" cy="839.3" r="8.8"/><circle cx="467.8" cy="840.3" r="8.8"/><circle cx="495.2" cy="841.3" r="8.8"/><circle cx="522.7" cy="842.7" r="8.8"/><circle cx="550.1" cy="844.8" r="8.8"/><circle cx="577.5" cy="846.7" r="8.8"/><circle cx="604.9" cy="848.6" r="8.8"/><circle cx="632.3" cy="851.5" r="8.8"/><circle cx="659.8" cy="853.1" r="8.8"/><circle cx="687.2" cy="855.6" r="8.8"/><circle cx="714.6" cy="857.2" r="8.8"/><circle cx="742.0" cy="860.5" r="8.8"/><circle cx="769.4" cy="863.7" r="8.8"/><circle cx="796.8" cy="867.8" r="8.8"/><circle cx="824.2" cy="870.7" r="8.8"/><circle cx="851.7" cy="876.7" r="8.8"/><circle cx="879.1" cy="880.4" r="8.8"/><circle cx="906.5" cy="886.2" r="8.8"/><circle cx="933.9" cy="893.4" r="8.8"/><circle cx="961.3" cy="899.1" r="8.8"/><circle cx="988.8" cy="906.1" r="8.8"/><circle cx="1016.2" cy="912.5" r="8.8"/><circle cx="1043.6" cy="922.1" r="8.8"/><circle cx="1071.0" cy="930.4" r="8.8"/><circle cx="1098.4" cy="939.3" r="8.8"/><circle cx="1125.8" cy="948.1" r="8.8"/><circle cx="1153.2" cy="956.9" r="8.8"/><circle cx="1180.7" cy="967.3" r="8.8"/><circle cx="1208.1" cy="977.2" r="8.8"/><circle cx="1235.5" cy="985.5" r="8.8"/><circle cx="1262.9" cy="995.0" r="8.8"/><circle cx="1290.3" cy="1003.9" r="8.8"/><circle cx="1317.8" cy="1011.9" r="8.8"/><circle cx="1345.2" cy="1018.6" r="8.8"/><circle cx="1372.6" cy="1028.8" r="8.8"/><circle cx="1400.0" cy="1036.3" r="8.8"/><circle cx="1427.4" cy="1045.0" r="8.8"/><circle cx="1454.8" cy="1054.0" r="8.8"/><circle cx="1482.2" cy="1059.1" r="8.8"/><circle cx="1509.7" cy="1068.1" r="8.8"/><circle cx="1537.1" cy="1074.9" r="8.8"/><circle cx="1564.5" cy="1084.5" r="8.8"/><circle cx="1591.9" cy="1093.6" r="8.8"/><circle cx="1619.3" cy="1102.6" r="8.8"/><circle cx="1646.8" cy="1112.4" r="8.8"/><circle cx="1674.2" cy="1124.0" r="8.8"/><circle cx="1701.6" cy="1137.0" r="8.8"/><circle cx="1729.0" cy="1150.8" r="8.8"/><circle cx="1756.4" cy="1169.9" r="8.8"/><circle cx="1783.8" cy="1188.8" r="8.8"/><circle cx="1811.2" cy="1214.3" r="8.8"/><circle cx="1838.7" cy="1229.5" r="8.8"/><circle cx="1866.1" cy="1240.7" r="8.8"/><circle cx="1893.5" cy="1243.3" r="8.8"/></g>
<path d="M460.5,836.6 L463.5,837.0 L466.5,837.4 L469.5,837.9 L472.5,838.3 L475.5,838.7 L478.5,839.0 L481.5,839.4 L484.5,839.8 L487.5,840.2 L490.5,840.6 L493.5,840.9 L496.5,841.3 L499.5,841.7 L502.5,842.0 L505.5,842.4 L508.5,842.7 L511.5,843.1 L514.5,843.4 L517.5,843.8 L520.5,844.1 L523.5,844.5 L526.5,844.8 L529.5,845.1 L532.5,845.5 L535.5,845.8 L538.5,846.1 L541.5,846.4 L544.5,846.7 L547.5,847.1 L550.5,847.4 L553.5,847.7 L556.5,848.0 L559.5,848.3 L562.5,848.6 L565.5,848.9 L568.5,849.2 L571.5,849.6 L574.5,849.9 L577.5,850.2 L580.5,850.5 L583.5,850.8 L586.5,851.1 L589.5,851.4 L592.5,851.7 L595.5,852.0 L598.5,852.3 L601.5,852.6 L604.5,852.9 L607.5,853.2 L610.5,853.5 L613.5,853.8 L616.5,854.1 L619.5,854.4 L622.5,854.7 L625.5,855.0 L628.5,855.3 L631.5,855.6 L634.5,856.0 L637.5,856.3 L640.5,856.6 L643.5,856.9 L646.5,857.2 L649.5,857.5 L652.5,857.9 L655.5,858.2 L658.5,858.5 L661.5,858.9 L664.5,859.2 L667.5,859.5 L670.5,859.9 L673.5,860.2 L676.5,860.6 L679.5,860.9 L682.5,861.3 L685.5,861.6 L688.5,862.0 L691.5,862.3 L694.5,862.7 L697.5,863.1 L700.5,863.5 L703.5,863.8 L706.5,864.2 L709.5,864.6 L712.5,865.0 L715.5,865.4 L718.5,865.8 L721.5,866.2 L724.5,866.6 L727.5,867.1 L730.5,867.5 L733.5,867.9 L736.5,868.4 L739.5,868.8 L742.5,869.2 L745.5,869.7 L748.5,870.2 L751.5,870.6 L754.5,871.1 L757.5,871.6 L760.5,872.1 L763.5,872.6 L766.5,873.1 L769.5,873.6 L772.5,874.1 L775.5,874.6 L778.5,875.1 L781.5,875.7 L784.5,876.2 L787.5,876.8 L790.5,877.3 L793.5,877.9 L796.5,878.4 L799.5,879.0 L802.5,879.6 L805.5,880.2 L808.5,880.8 L811.5,881.4 L814.5,882.0 L817.5,882.7 L820.5,883.3 L823.5,883.9 L826.5,884.6 L829.5,885.2 L832.5,885.9 L835.5,886.6 L838.5,887.2 L841.5,887.9 L844.5,888.6 L847.5,889.3 L850.5,890.0 L853.5,890.7 L856.5,891.4 L859.5,892.1 L862.5,892.9 L865.5,893.6 L868.5,894.3 L871.5,895.1 L874.5,895.8 L877.5,896.6 L880.5,897.4 L883.5,898.1 L886.5,898.9 L889.5,899.7 L892.5,900.5 L895.5,901.3 L898.5,902.1 L901.5,902.9 L904.5,903.7 L907.5,904.5 L910.5,905.3 L913.5,906.2 L916.5,907.0 L919.5,907.9 L922.5,908.7 L925.5,909.6 L928.5,910.4 L931.5,911.3 L934.5,912.1 L937.5,913.0 L940.5,913.9 L943.5,914.8 L946.5,915.7 L949.5,916.6 L952.5,917.5 L955.5,918.4 L958.5,919.3 L961.5,920.2 L964.5,921.1 L967.5,922.0 L970.5,923.0 L973.5,923.9 L976.5,924.8 L979.5,925.8 L982.5,926.7 L985.5,927.7 L988.5,928.6 L991.5,929.6 L994.5,930.5 L997.5,931.5 L1000.5,932.5 L1003.5,933.5 L1006.5,934.4 L1009.5,935.4 L1012.5,936.4 L1015.5,937.4 L1018.5,938.4 L1021.5,939.4 L1024.5,940.4 L1027.5,941.4 L1030.5,942.4 L1033.5,943.4 L1036.5,944.4 L1039.5,945.5 L1042.5,946.5 L1045.5,947.5 L1048.5,948.5 L1051.5,949.5 L1054.5,950.6 L1057.5,951.6 L1060.5,952.6 L1063.5,953.7 L1066.5,954.7 L1069.5,955.7 L1072.5,956.8 L1075.5,957.8 L1078.5,958.9 L1081.5,959.9 L1084.5,961.0 L1087.5,962.0 L1090.5,963.0 L1093.5,964.1 L1096.5,965.1 L1099.5,966.2 L1102.5,967.2 L1105.5,968.3 L1108.5,969.3 L1111.5,970.4 L1114.5,971.4 L1117.5,972.5 L1120.5,973.5 L1123.5,974.6 L1126.5,975.6 L1129.5,976.7 L1132.5,977.7 L1135.5,978.8 L1138.5,979.8 L1141.5,980.9 L1144.5,981.9 L1147.5,983.0 L1150.5,984.0 L1153.5,985.1 L1156.5,986.1 L1159.5,987.2 L1162.5,988.2 L1165.5,989.2 L1168.5,990.3 L1171.5,991.3 L1174.5,992.3 L1177.5,993.4 L1180.5,994.4 L1183.5,995.4 L1186.5,996.4 L1189.5,997.5 L1192.5,998.5 L1195.5,999.5 L1198.5,1000.5 L1201.5,1001.5 L1204.5,1002.5 L1207.5,1003.5 L1210.5,1004.5 L1213.5,1005.5 L1216.5,1006.5 L1219.5,1007.5 L1222.5,1008.5 L1225.5,1009.5 L1228.5,1010.5 L1231.5,1011.5 L1234.5,1012.4 L1237.5,1013.4 L1240.5,1014.4 L1243.5,1015.3 L1246.5,1016.3 L1249.5,1017.2 L1252.5,1018.2 L1255.5,1019.1 L1258.5,1020.1 L1261.5,1021.0 L1264.5,1021.9 L1267.5,1022.9 L1270.5,1023.8 L1273.5,1024.7 L1276.5,1025.6 L1279.5,1026.6 L1282.5,1027.5 L1285.5,1028.4 L1288.5,1029.3 L1291.5,1030.2 L1294.5,1031.1 L1297.5,1032.0 L1300.5,1032.9 L1303.5,1033.8 L1306.5,1034.7 L1309.5,1035.6 L1312.5,1036.5 L1315.5,1037.4 L1318.5,1038.3 L1321.5,1039.2 L1324.5,1040.0 L1327.5,1040.9 L1330.5,1041.8 L1333.5,1042.7 L1336.5,1043.6 L1339.5,1044.4 L1342.5,1045.3 L1345.5,1046.2 L1348.5,1047.1 L1351.5,1047.9 L1354.5,1048.8 L1357.5,1049.7 L1360.5,1050.5 L1363.5,1051.4 L1366.5,1052.3 L1369.5,1053.1 L1372.5,1054.0 L1375.5,1054.9 L1378.5,1055.7 L1381.5,1056.6 L1384.5,1057.5 L1387.5,1058.3 L1390.5,1059.2 L1393.5,1060.1 L1396.5,1060.9 L1399.5,1061.8 L1402.5,1062.6 L1405.5,1063.5 L1408.5,1064.4 L1411.5,1065.2 L1414.5,1066.1 L1417.5,1067.0 L1420.5,1067.9 L1423.5,1068.7 L1426.5,1069.6 L1429.5,1070.5 L1432.5,1071.3 L1435.5,1072.2 L1438.5,1073.1 L1441.5,1074.0 L1444.5,1074.8 L1447.5,1075.7 L1450.5,1076.6 L1453.5,1077.5 L1456.5,1078.4 L1459.5,1079.3 L1462.5,1080.2 L1465.5,1081.0 L1468.5,1081.9 L1471.5,1082.8 L1474.5,1083.7 L1477.5,1084.6 L1480.5,1085.5 L1483.5,1086.4 L1486.5,1087.4 L1489.5,1088.3 L1492.5,1089.2 L1495.5,1090.1 L1498.5,1091.0 L1501.5,1091.9 L1504.5,1092.9 L1507.5,1093.8 L1510.5,1094.7 L1513.5,1095.7 L1516.5,1096.6 L1519.5,1097.5 L1522.5,1098.5 L1525.5,1099.4 L1528.5,1100.4 L1531.5,1101.3 L1534.5,1102.3 L1537.5,1103.2 L1540.5,1104.2 L1543.5,1105.2 L1546.5,1106.1 L1549.5,1107.1 L1552.5,1108.0 L1555.5,1109.0 L1558.5,1110.0 L1561.5,1110.9 L1564.5,1111.9 L1567.5,1112.9 L1570.5,1113.9 L1573.5,1114.8 L1576.5,1115.8 L1579.5,1116.8 L1582.5,1117.7 L1585.5,1118.7 L1588.5,1119.7 L1591.5,1120.7 L1594.5,1121.6 L1597.5,1122.6 L1600.5,1123.6 L1603.5,1124.5 L1606.5,1125.5 L1609.5,1126.5 L1612.5,1127.4 L1615.5,1128.4 L1618.5,1129.3 L1621.5,1130.3 L1624.5,1131.3 L1627.5,1132.2 L1630.5,1133.2 L1633.5,1134.1 L1636.5,1135.0 L1639.5,1136.0 L1642.5,1136.9 L1645.5,1137.9 L1648.5,1138.8 L1651.5,1139.7 L1654.5,1140.7 L1657.5,1141.6 L1660.5,1142.5 L1663.5,1143.4 L1666.5,1144.3 L1669.5,1145.2 L1672.5,1146.1 L1675.5,1147.0 L1678.5,1147.9 L1681.5,1148.8 L1684.5,1149.7 L1687.5,1150.6 L1690.5,1151.5 L1693.5,1152.3 L1696.5,1153.2 L1699.5,1154.0 L1702.5,1154.9 L1705.5,1155.7 L1708.5,1156.6 L1711.5,1157.4 L1714.5,1158.2 L1717.5,1159.0 L1720.5,1159.9 L1723.5,1160.7 L1726.5,1161.5 L1729.5,1162.3 L1732.5,1163.0 L1735.5,1163.8 L1738.5,1164.6 L1741.5,1165.3 L1744.5,1166.1 L1747.5,1166.8 L1750.5,1167.6 L1753.5,1168.3 L1756.5,1169.0 L1759.5,1169.7 L1762.5,1170.4 L1765.5,1171.1 L1768.5,1171.8 L1771.5,1172.5 L1774.5,1173.2 L1777.5,1173.8 L1780.5,1174.5 L1783.5,1175.1 L1786.5,1175.7 L1789.5,1176.4 L1792.5,1177.0 L1795.5,1177.6 L1798.5,1178.1 L1801.5,1178.7 L1804.5,1179.3 L1807.5,1179.8 L1810.5,1180.4 L1813.5,1180.9 L1816.5,1181.4 L1819.5,1181.9 L1822.5,1182.4 L1825.5,1182.9 L1828.5,1183.4 L1831.5,1183.9 L1834.5,1184.3 L1837.5,1184.8 L1840.5,1185.2 L1843.5,1185.6 L1846.5,1186.0 L1849.5,1186.4 L1852.5,1186.7 L1855.5,1187.1 L1858.5,1187.5 L1861.5,1187.8 L1864.5,1188.1 L1867.5,1188.4 L1870.5,1188.7 L1873.5,1189.0 L1876.5,1189.2 L1879.5,1189.5 L1882.5,1189.7 L1885.5,1189.9 L1888.5,1190.1 L1891.5,1190.3 L1893.5,1190.4" fill="none" stroke="#008000" stroke-width="5.1" stroke-linejoin="round"/>
<g fill="#008000"><circle cx="248.5" cy="837.1" r="8.8"/><circle cx="275.9" cy="838.0" r="8.8"/><circle cx="303.3" cy="837.2" r="8.8"/><circle cx="330.8" cy="839.4" r="8.8"/><circle cx="358.2" cy="839.4" r="8.8"/><circle cx="385.6" cy="840.4" r="8.8"/><circle cx="413.0" cy="841.6" r="8.8"/><circle cx="440.4" cy="842.4" r="8.8"/><circle cx="467.8" cy="843.9" r="8.8"/><circle cx="495.2" cy="845.0" r="8.8"/><circle cx="522.7" cy="846.8" r="8.8"/><circle cx="550.1" cy="849.0" r="8.8"/><circle cx="577.5" cy="851.1" r="8.8"/><circle cx="604.9" cy="854.0" r="8.8"/><circle cx="632.3" cy="856.9" r="8.8"/><circle cx="659.8" cy="859.7" r="8.8"/><circle cx="687.2" cy="862.1" r="8.8"/><circle cx="714.6" cy="865.5" r="8.8"/><circle cx="742.0" cy="870.2" r="8.8"/><circle cx="769.4" cy="875.1" r="8.8"/><circle cx="796.8" cy="879.2" r="8.8"/><circle cx="824.2" cy="884.1" r="8.8"/><circle cx="851.7" cy="892.0" r="8.8"/><circle cx="879.1" cy="897.0" r="8.8"/><circle cx="906.5" cy="904.3" r="8.8"/><circle cx="933.9" cy="913.0" r="8.8"/><circle cx="961.3" cy="919.8" r="8.8"/><circle cx="988.8" cy="928.4" r="8.8"/><circle cx="1016.2" cy="936.6" r="8.8"/><circle cx="1043.6" cy="947.5" r="8.8"/><circle cx="1071.0" cy="956.5" r="8.8"/><circle cx="1098.4" cy="966.2" r="8.8"/><circle cx="1125.8" cy="975.2" r="8.8"/><circle cx="1153.2" cy="984.4" r="8.8"/><circle cx="1180.7" cy="995.1" r="8.8"/><circle cx="1208.1" cy="1004.6" r="8.8"/><circle cx="1235.5" cy="1012.7" r="8.8"/><circle cx="1262.9" cy="1021.5" r="8.8"/><circle cx="1290.3" cy="1030.3" r="8.8"/><circle cx="1317.8" cy="1038.1" r="8.8"/><circle cx="1345.2" cy="1045.1" r="8.8"/><circle cx="1372.6" cy="1055.2" r="8.8"/><circle cx="1400.0" cy="1062.4" r="8.8"/><circle cx="1427.4" cy="1071.7" r="8.8"/><circle cx="1454.8" cy="1080.7" r="8.8"/><circle cx="1482.2" cy="1087.0" r="8.8"/><circle cx="1509.7" cy="1096.7" r="8.8"/><circle cx="1537.1" cy="1104.6" r="8.8"/><circle cx="1564.5" cy="1115.6" r="8.8"/><circle cx="1591.9" cy="1126.2" r="8.8"/><circle cx="1619.3" cy="1136.7" r="8.8"/><circle cx="1646.8" cy="1147.1" r="8.8"/><circle cx="1674.2" cy="1159.1" r="8.8"/><circle cx="1701.6" cy="1172.3" r="8.8"/><circle cx="1729.0" cy="1185.0" r="8.8"/><circle cx="1756.4" cy="1201.3" r="8.8"/><circle cx="1783.8" cy="1215.6" r="8.8"/><circle cx="1811.2" cy="1233.8" r="8.8"/><circle cx="1838.7" cy="1243.7" r="8.8"/><circle cx="1866.1" cy="1251.9" r="8.8"/><circle cx="1893.5" cy="1253.1" r="8.8"/></g>
<line x1="443.8" y1="1056.8" x2="586.3" y2="1056.8" stroke="#008000" stroke-width="5.8"/>
<line x1="443.8" y1="1127.9" x2="586.3" y2="1127.9" stroke="#0000ff" stroke-width="5.8"/>
<line x1="443.8" y1="1198.7" x2="586.3" y2="1198.7" stroke="#ff0000" stroke-width="5.8"/>
<g font-family="Liberation Serif, Times New Roman, serif">
<text id="my0" transform="translate(219.05 77.92) scale(1.0016 1)" x="0" y="0" font-size="68.50" text-anchor="end" fill="#262626" stroke="#262626" stroke-width="1.1" stroke-linejoin="round">0</text>
<text id="my-10" transform="translate(215.67 201.56) scale(0.9660 1)" x="0" y="0" font-size="68.50" text-anchor="end" fill="#262626" stroke="#262626" stroke-width="1.1" stroke-linejoin="round">-10</text>
<text id="my-20" transform="translate(216.03 324.89) scale(0.9778 1)" x="0" y="0" font-size="68.50" text-anchor="end" fill="#262626" stroke="#262626" stroke-width="1.1" stroke-linejoin="round">-20</text>
<text id="my-30" transform="translate(215.94 448.59) scale(0.9776 1)" x="0" y="0" font-size="68.50" text-anchor="end" fill="#262626" stroke="#262626" stroke-width="1.1" stroke-linejoin="round">-30</text>
<text id="my-40" transform="translate(215.97 572.31) scale(0.9776 1)" x="0" y="0" font-size="68.50" text-anchor="end" fill="#262626" stroke="#262626" stroke-width="1.1" stroke-linejoin="round">-40</text>
<text id="py90" transform="translate(218.63 855.57) scale(0.9696 1)" x="0" y="0" font-size="68.50" text-anchor="end" fill="#262626" stroke="#262626" stroke-width="1.1" stroke-linejoin="round">90</text>
<text id="py45" transform="translate(216.56 966.76) scale(0.9399 1)" x="0" y="0" font-size="68.50" text-anchor="end" fill="#262626" stroke="#262626" stroke-width="1.1" stroke-linejoin="round">45</text>
<text id="py0" transform="translate(219.17 1077.84) scale(1.0049 1)" x="0" y="0" font-size="68.50" text-anchor="end" fill="#262626" stroke="#262626" stroke-width="1.1" stroke-linejoin="round">0</text>
<text id="py-45" transform="translate(213.82 1189.94) scale(0.9551 1)" x="0" y="0" font-size="68.50" text-anchor="end" fill="#262626" stroke="#262626" stroke-width="1.1" stroke-linejoin="round">-45</text>
<text id="py-90" transform="translate(216.02 1301.57) scale(0.9777 1)" x="0" y="0" font-size="68.50" text-anchor="end" fill="#262626" stroke="#262626" stroke-width="1.1" stroke-linejoin="round">-90</text>
<text id="mx0" transform="translate(249.75 658.17) scale(0.9543 1)" x="0" y="0" font-size="68.50" text-anchor="middle" fill="#262626" stroke="#262626" stroke-width="1.1" stroke-linejoin="round">10<tspan dy="-33" font-size="50.5">0</tspan></text>
<text id="mx1" transform="translate(796.25 658.00) scale(0.9188 1)" x="0" y="0" font-size="68.50" text-anchor="middle" fill="#262626" stroke="#262626" stroke-width="1.1" stroke-linejoin="round">10<tspan dy="-33" font-size="50.5">1</tspan></text>
<text id="mx2" transform="translate(1346.91 658.30) scale(0.9541 1)" x="0" y="0" font-size="68.50" text-anchor="middle" fill="#262626" stroke="#262626" stroke-width="1.1" stroke-linejoin="round">10<tspan dy="-33" font-size="50.5">2</tspan></text>
<text id="mx3" transform="translate(1893.85 658.62) scale(0.9429 1)" x="0" y="0" font-size="68.50" text-anchor="middle" fill="#262626" stroke="#262626" stroke-width="1.1" stroke-linejoin="round">10<tspan dy="-33" font-size="50.5">3</tspan></text>
<text id="px0" transform="translate(249.75 1410.77) scale(0.9543 1)" x="0" y="0" font-size="68.50" text-anchor="middle" fill="#262626" stroke="#262626" stroke-width="1.1" stroke-linejoin="round">10<tspan dy="-33" font-size="50.5">0</tspan></text>
<text id="px1" transform="translate(796.25 1410.60) scale(0.9188 1)" x="0" y="0" font-size="68.50" text-anchor="middle" fill="#262626" stroke="#262626" stroke-width="1.1" stroke-linejoin="round">10<tspan dy="-33" font-size="50.5">1</tspan></text>
<text id="px2" transform="translate(1346.91 1410.90) scale(0.9541 1)" x="0" y="0" font-size="68.50" text-anchor="middle" fill="#262626" stroke="#262626" stroke-width="1.1" stroke-linejoin="round">10<tspan dy="-33" font-size="50.5">2</tspan></text>
<text id="px3" transform="translate(1893.85 1411.21) scale(0.9429 1)" x="0" y="0" font-size="68.50" text-anchor="middle" fill="#262626" stroke="#262626" stroke-width="1.1" stroke-linejoin="round">10<tspan dy="-33" font-size="50.5">3</tspan></text>
<text id="ylab_m" transform="translate(85.61 303.45) rotate(-90)" x="0" y="0" font-size="74.90" text-anchor="middle" fill="#262626" stroke="#262626" stroke-width="1.1" stroke-linejoin="round">Magnitude (dB)</text>
<text id="ylab_p" transform="translate(85.71 1057.75) rotate(-90)" x="0" y="0" font-size="74.97" text-anchor="middle" fill="#262626" stroke="#262626" stroke-width="1.1" stroke-linejoin="round">Phase (deg)</text>
<text id="xlab" transform="translate(1069.75 1508.44)" x="0" y="0" font-size="75.20" text-anchor="middle" fill="#262626" stroke="#262626" stroke-width="1.1" stroke-linejoin="round">Frequency (Hz)</text>
<text id="leg0" transform="translate(608.28 1075.90)" x="0" y="0" font-size="58.56" fill="#231f20" stroke="#231f20" stroke-width="0.4" stroke-linejoin="round">300 Hz ACC</text>
<text id="leg1" transform="translate(605.91 1147.97)" x="0" y="0" font-size="58.58" fill="#231f20" stroke="#231f20" stroke-width="0.4" stroke-linejoin="round">400 Hz ACC</text>
<text id="leg2" transform="translate(601.06 1218.88)" x="0" y="0" font-size="58.52" fill="#231f20" stroke="#231f20" stroke-width="0.4" stroke-linejoin="round">500 Hz ACC</text>
<text id="Y" transform="translate(315.36 176.36)" x="0" y="0" font-size="100.46" font-style="italic" fill="#000" stroke="#000" stroke-width="0.3" stroke-linejoin="round">Y</text>
<text id="dd" transform="translate(361.31 203.29)" x="0" y="0" font-size="59.01" fill="#000" stroke="#000" stroke-width="0.6" stroke-linejoin="round">dd</text>
</g>
</svg>
</body></html>
